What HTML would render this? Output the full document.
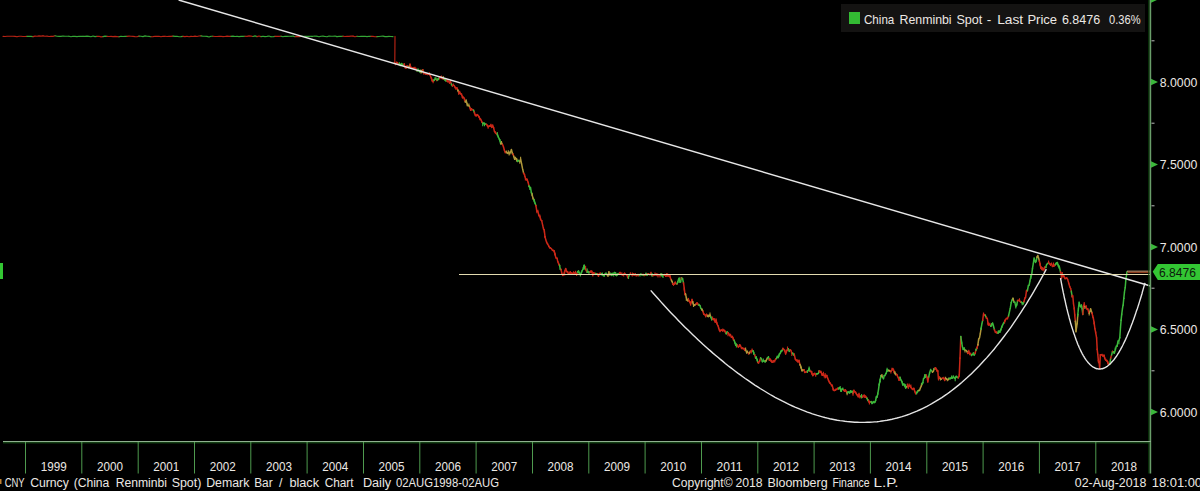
<!DOCTYPE html>
<html><head><meta charset="utf-8"><style>
html,body{margin:0;padding:0;background:#000;width:1200px;height:491px;overflow:hidden;}
svg{position:absolute;left:0;top:0;display:block}
text{font-family:"Liberation Sans",sans-serif;}
</style></head><body>
<svg width="1200" height="491" viewBox="0 0 1200 491">
<rect x="0" y="0" width="1200" height="491" fill="#000"/>
<g fill="none" stroke-width="1.15" stroke-linejoin="round" stroke-linecap="round" opacity="0.9"><path d="M3.0,36.4 L5.0,36.5 L7.0,36.3 L9.0,36.2 L11.0,36.3 L13.0,36.2 L15.0,36.4 L17.0,36.7" stroke="#cc2818"/><path d="M17.0,36.7 L19.0,36.3 L21.0,36.2 L23.0,36.5 L25.0,36.5 L27.0,36.4" stroke="#cc2818"/><path d="M27.0,36.4 L29.0,36.2 L31.0,36.4 L33.0,36.6" stroke="#3cb83c"/><path d="M33.0,36.6 L35.0,36.1 L37.0,36.3 L39.0,35.9 L41.0,36.1 L43.0,35.9" stroke="#cc2818"/><path d="M43.0,35.9 L45.0,36.3 L47.0,36.1 L49.0,36.5 L51.0,36.4" stroke="#cc2818"/><path d="M51.0,36.4 L53.0,36.4 L55.0,35.8" stroke="#cc2818"/><path d="M55.0,35.8 L57.0,36.3 L59.0,36.4 L61.0,36.4 L63.0,36.0 L65.0,36.3 L67.0,36.2 L69.0,36.2" stroke="#3cb83c"/><path d="M69.0,36.2 L71.0,36.7 L73.0,36.2 L75.0,36.4 L77.0,36.6 L79.0,36.3 L81.0,36.4 L83.0,36.4" stroke="#3cb83c"/><path d="M83.0,36.4 L85.0,36.4 L87.0,36.1 L89.0,36.4 L91.0,36.7 L93.0,36.0 L95.0,36.6 L97.0,36.4" stroke="#3cb83c"/><path d="M97.0,36.4 L99.0,36.2 L101.0,36.9 L103.0,36.6" stroke="#cc2818"/><path d="M103.0,36.6 L105.0,36.1 L107.0,36.4" stroke="#3cb83c"/><path d="M107.0,36.4 L109.0,36.5 L111.0,36.4 L113.0,36.6 L115.0,36.4 L117.0,36.6 L119.0,36.8" stroke="#cc2818"/><path d="M119.0,36.8 L121.0,36.2 L123.0,36.5 L125.0,36.3 L127.0,36.4" stroke="#3cb83c"/><path d="M127.0,36.4 L129.0,36.1 L131.0,36.3 L133.0,36.4 L135.0,36.6 L137.0,36.7 L139.0,36.1" stroke="#cc2818"/><path d="M139.0,36.1 L141.0,36.2 L143.0,36.6 L145.0,35.9 L147.0,36.3 L149.0,36.4 L151.0,36.7" stroke="#3cb83c"/><path d="M151.0,36.7 L153.0,36.6 L155.0,36.3 L157.0,36.3 L159.0,36.3 L161.0,36.8 L163.0,36.3 L165.0,36.3" stroke="#cc2818"/><path d="M165.0,36.3 L167.0,36.5 L169.0,36.4 L171.0,36.4 L173.0,36.1" stroke="#cc2818"/><path d="M173.0,36.1 L175.0,36.4 L177.0,36.3 L179.0,36.7 L181.0,36.6 L183.0,36.4" stroke="#3cb83c"/><path d="M183.0,36.4 L185.0,36.6 L187.0,36.3 L189.0,36.7 L191.0,36.4" stroke="#cc2818"/><path d="M191.0,36.4 L193.0,36.5 L195.0,36.1 L197.0,36.5 L199.0,36.0 L201.0,35.9" stroke="#cc2818"/><path d="M201.0,35.9 L203.0,36.3 L205.0,36.2 L207.0,36.4 L209.0,37.0 L211.0,36.2 L213.0,36.2" stroke="#3cb83c"/><path d="M213.0,36.2 L215.0,36.5 L217.0,36.5 L219.0,36.4 L221.0,36.3 L223.0,36.6 L225.0,36.5" stroke="#cc2818"/><path d="M225.0,36.5 L227.0,36.1 L229.0,36.4 L231.0,36.4" stroke="#cc2818"/><path d="M231.0,36.4 L233.0,36.1 L235.0,36.5 L237.0,36.2 L239.0,36.6 L241.0,36.4 L243.0,36.4 L245.0,36.3" stroke="#3cb83c"/><path d="M245.0,36.3 L247.0,36.4 L249.0,35.9 L251.0,36.1 L253.0,36.5" stroke="#cc2818"/><path d="M253.0,36.5 L255.0,35.9 L257.0,36.6" stroke="#3cb83c"/><path d="M257.0,36.6 L259.0,36.0 L261.0,36.6" stroke="#cc2818"/><path d="M261.0,36.6 L263.0,36.2 L265.0,36.6 L267.0,36.4 L269.0,36.0 L271.0,36.7" stroke="#3cb83c"/><path d="M271.0,36.7 L273.0,36.8 L275.0,36.4" stroke="#3cb83c"/><path d="M275.0,36.4 L277.0,36.3 L279.0,36.4 L281.0,36.2" stroke="#cc2818"/><path d="M281.0,36.2 L283.0,36.7 L285.0,36.3 L287.0,36.4 L289.0,36.2 L291.0,36.2" stroke="#3cb83c"/><path d="M291.0,36.2 L293.0,36.1 L295.0,36.7" stroke="#3cb83c"/><path d="M295.0,36.7 L297.0,36.4 L299.0,36.6 L301.0,36.4" stroke="#cc2818"/><path d="M301.0,36.4 L303.0,36.2 L305.0,36.3 L307.0,36.3 L309.0,36.4 L311.0,36.3" stroke="#3cb83c"/><path d="M311.0,36.3 L313.0,36.3 L315.0,36.1 L317.0,36.2" stroke="#3cb83c"/><path d="M317.0,36.2 L319.0,36.8 L321.0,36.2 L323.0,36.1 L325.0,36.5" stroke="#3cb83c"/><path d="M325.0,36.5 L327.0,36.8 L329.0,36.0 L331.0,36.3 L333.0,36.2 L335.0,36.0 L337.0,36.6" stroke="#3cb83c"/><path d="M337.0,36.6 L339.0,36.4 L341.0,36.4 L343.0,36.2" stroke="#3cb83c"/><path d="M343.0,36.2 L345.0,36.5 L347.0,36.3 L349.0,36.4 L351.0,36.1 L353.0,36.1" stroke="#cc2818"/><path d="M353.0,36.1 L355.0,36.7 L357.0,36.3" stroke="#cc2818"/><path d="M357.0,36.3 L359.0,36.5 L361.0,36.4 L363.0,36.3 L365.0,36.3 L367.0,36.6 L369.0,36.3 L371.0,36.4" stroke="#3cb83c"/><path d="M371.0,36.4 L373.0,36.4 L375.0,36.7 L377.0,36.6" stroke="#cc2818"/><path d="M377.0,36.6 L379.0,36.5 L381.0,36.3 L383.0,36.1 L385.0,36.6 L387.0,36.6 L389.0,36.4 L391.0,36.5" stroke="#3cb83c"/><path d="M391.0,36.5 L393.0,36.6" stroke="#3cb83c"/><path d="M395.0,36.4 L394.8,62.8" stroke="#cc2818"/></g><g fill="none" stroke-width="1.5" stroke-linejoin="round" stroke-linecap="round"><path d="M394.5,62.8 L395.5,63.6 L396.4,63.6 L397.4,62.6 L398.4,64.4" stroke="#cc2818"/><path d="M398.4,64.4 L399.3,63.5" stroke="#cc2818"/><path d="M399.3,63.5 L400.3,65.5" stroke="#3cb83c"/><path d="M400.3,65.5 L401.3,63.5 L402.2,64.9 L403.2,65.3 L404.2,64.2" stroke="#3cb83c"/><path d="M404.2,64.2 L405.2,67.5 L406.1,67.6 L407.1,65.9 L408.1,67.4" stroke="#cc2818"/><path d="M408.1,67.4 L409.0,67.3 L410.0,64.6" stroke="#b0983a"/><path d="M410.0,64.6 L411.0,67.8 L412.0,67.8" stroke="#cc2818"/><path d="M412.0,67.8 L413.0,68.3" stroke="#cc2818"/><path d="M413.0,68.3 L414.0,67.5 L415.0,68.6 L416.0,69.1 L417.0,70.8" stroke="#cc2818"/><path d="M417.0,70.8 L418.0,70.3 L419.0,70.3 L420.0,72.1 L420.9,70.4" stroke="#3cb83c"/><path d="M420.9,70.4 L421.9,71.0 L422.8,69.9" stroke="#b0983a"/><path d="M422.8,69.9 L423.8,73.6 L424.7,73.4 L425.6,73.7 L426.6,73.9" stroke="#cc2818"/><path d="M426.6,73.9 L427.5,73.7 L428.5,74.1 L429.4,74.0" stroke="#cc2818"/><path d="M429.4,74.0 L430.3,75.7 L431.2,77.6 L432.2,80.6" stroke="#cc2818"/><path d="M432.2,80.6 L433.1,81.3 L434.0,80.2" stroke="#cc2818"/><path d="M434.0,80.2 L435.0,79.2 L435.9,78.7 L436.8,80.5" stroke="#3cb83c"/><path d="M436.8,80.5 L437.7,79.2" stroke="#cc2818"/><path d="M437.7,79.2 L438.6,78.6 L439.6,78.1" stroke="#3cb83c"/><path d="M439.6,78.1 L440.5,77.1 L441.4,78.0 L442.3,78.8 L443.2,78.2" stroke="#cc2818"/><path d="M443.2,78.2 L444.1,79.2 L445.1,79.9" stroke="#b0983a"/><path d="M445.1,79.9 L446.0,81.0 L446.9,80.0" stroke="#3cb83c"/><path d="M446.9,80.0 L447.8,81.6 L448.7,81.2 L449.6,83.2 L450.5,81.7" stroke="#cc2818"/><path d="M450.5,81.7 L451.4,84.0" stroke="#cc2818"/><path d="M451.4,84.0 L452.4,85.9" stroke="#3cb83c"/><path d="M452.4,85.9 L453.3,85.0 L454.2,85.6 L455.1,87.3 L456.0,88.0" stroke="#cc2818"/><path d="M456.0,88.0 L457.0,88.0" stroke="#cc2818"/><path d="M457.0,88.0 L457.9,90.3" stroke="#cc2818"/><path d="M457.9,90.3 L458.8,92.8" stroke="#b0983a"/><path d="M458.8,92.8 L459.7,92.1 L460.6,93.8 L461.6,94.6 L462.5,97.5" stroke="#cc2818"/><path d="M462.5,97.5 L463.4,97.1 L464.3,98.3 L465.3,101.8" stroke="#cc2818"/><path d="M465.3,101.8 L466.2,100.7 L467.1,103.8 L468.0,105.6" stroke="#b0983a"/><path d="M468.0,105.6 L468.9,105.7 L469.8,107.4" stroke="#b0983a"/><path d="M469.8,107.4 L470.7,110.2" stroke="#cc2818"/><path d="M470.7,110.2 L471.6,109.1 L472.5,109.8 L473.5,110.1" stroke="#cc2818"/><path d="M473.5,110.1 L474.4,112.6" stroke="#3cb83c"/><path d="M474.4,112.6 L475.3,115.2 L476.2,115.6" stroke="#cc2818"/><path d="M476.2,115.6 L477.1,114.6 L478.1,115.6 L479.0,116.9" stroke="#cc2818"/><path d="M479.0,116.9 L479.9,118.6" stroke="#cc2818"/><path d="M479.9,118.6 L480.8,119.6 L481.8,121.6 L482.7,123.2" stroke="#cc2818"/><path d="M482.7,123.2 L483.6,123.0 L484.5,123.6 L485.4,124.2 L486.3,124.3" stroke="#3cb83c"/><path d="M486.3,124.3 L487.2,125.2 L488.1,127.0 L489.0,126.2" stroke="#cc2818"/><path d="M489.0,126.2 L489.9,126.2" stroke="#cc2818"/><path d="M489.9,126.2 L490.9,124.9 L491.8,127.4 L492.7,125.6 L493.6,127.7" stroke="#cc2818"/><path d="M493.6,127.7 L494.5,131.6 L495.5,133.0 L496.4,133.8 L497.3,134.0" stroke="#cc2818"/><path d="M497.3,134.0 L498.3,137.2 L499.2,138.7 L500.0,141.1 L500.7,143.7" stroke="#3cb83c"/><path d="M500.7,143.7 L501.5,142.7 L502.4,144.3" stroke="#b0983a"/><path d="M502.4,144.3 L503.4,146.5 L504.4,150.2 L505.3,152.7 L506.3,151.9" stroke="#cc2818"/><path d="M506.3,151.9 L507.3,153.4 L508.3,152.3 L509.1,153.7 L509.9,152.8" stroke="#b0983a"/><path d="M509.9,152.8 L510.6,151.9 L511.4,149.4 L512.2,152.7 L513.0,154.3" stroke="#b0983a"/><path d="M513.0,154.3 L513.7,156.3" stroke="#cc2818"/><path d="M513.7,156.3 L514.5,158.7 L515.5,158.2 L516.5,158.6 L517.5,161.3" stroke="#b0983a"/><path d="M517.5,161.3 L518.3,160.3 L519.0,160.8 L519.8,161.6" stroke="#3cb83c"/><path d="M519.8,161.6 L520.6,158.9 L521.6,163.9 L522.6,168.9 L523.6,173.2" stroke="#b0983a"/><path d="M523.6,173.2 L524.5,174.6" stroke="#cc2818"/><path d="M524.5,174.6 L525.4,178.1 L526.4,179.4 L527.3,180.1" stroke="#cc2818"/><path d="M527.3,180.1 L528.2,182.6 L529.0,186.2" stroke="#cc2818"/><path d="M529.0,186.2 L529.8,187.8 L530.5,187.4 L531.3,192.5 L532.2,194.9" stroke="#3cb83c"/><path d="M532.2,194.9 L533.1,198.7 L534.1,200.0" stroke="#b0983a"/><path d="M534.1,200.0 L535.0,203.1 L535.9,205.4" stroke="#3cb83c"/><path d="M535.9,205.4 L536.9,211.6 L537.9,211.4 L538.9,215.7 L539.8,216.2" stroke="#cc2818"/><path d="M539.8,216.2 L540.7,219.8 L541.7,220.7" stroke="#cc2818"/><path d="M541.7,220.7 L542.6,224.8 L543.5,228.9 L544.3,230.5 L545.0,236.6" stroke="#cc2818"/><path d="M545.0,236.6 L545.8,239.7 L546.6,242.2 L547.6,244.2" stroke="#cc2818"/><path d="M547.6,244.2 L548.6,245.7 L549.6,247.7" stroke="#cc2818"/><path d="M549.6,247.7 L550.5,248.1 L551.4,248.7 L552.4,250.2 L553.3,250.4" stroke="#cc2818"/><path d="M553.3,250.4 L554.2,251.0" stroke="#cc2818"/><path d="M554.2,251.0 L555.1,254.7" stroke="#cc2818"/><path d="M555.1,254.7 L556.0,258.1 L557.0,258.2" stroke="#cc2818"/><path d="M557.0,258.2 L557.9,262.1 L558.8,264.0 L559.6,265.5" stroke="#cc2818"/><path d="M559.6,265.5 L560.3,269.3 L561.1,269.8" stroke="#3cb83c"/><path d="M561.1,269.8 L561.9,273.7 L562.8,275.5 L563.8,274.3 L564.7,271.3" stroke="#cc2818"/><path d="M564.7,271.3 L565.7,268.4 L566.6,271.2 L567.6,271.9" stroke="#cc2818"/><path d="M567.6,271.9 L568.5,274.1 L569.4,273.3 L570.2,272.1 L571.1,273.0" stroke="#cc2818"/><path d="M571.1,273.0 L571.9,273.0 L572.8,273.8 L573.7,272.4" stroke="#cc2818"/><path d="M573.7,272.4 L574.7,273.7 L575.6,272.5 L576.6,274.4" stroke="#cc2818"/><path d="M576.6,274.4 L577.5,272.2" stroke="#cc2818"/><path d="M577.5,272.2 L578.5,271.0" stroke="#3cb83c"/><path d="M578.5,271.0 L579.5,273.2 L580.4,274.8 L581.4,272.7" stroke="#3cb83c"/><path d="M581.4,272.7 L582.3,270.5" stroke="#3cb83c"/><path d="M582.3,270.5 L583.3,268.3 L584.2,265.3" stroke="#3cb83c"/><path d="M584.2,265.3 L584.9,268.4 L585.6,268.9" stroke="#3cb83c"/><path d="M585.6,268.9 L586.3,270.7 L587.2,272.3" stroke="#cc2818"/><path d="M587.2,272.3 L588.1,271.3 L589.0,272.9 L589.9,271.8" stroke="#3cb83c"/><path d="M589.9,271.8 L590.9,271.7 L591.8,271.2 L592.8,275.0 L593.7,272.9" stroke="#cc2818"/><path d="M593.7,272.9 L594.6,273.6 L595.6,273.5" stroke="#cc2818"/><path d="M595.6,273.5 L596.5,273.9 L597.5,274.0" stroke="#3cb83c"/><path d="M597.5,274.0 L598.5,276.1" stroke="#cc2818"/><path d="M598.5,276.1 L599.4,273.4 L600.3,273.1 L601.3,273.9" stroke="#cc2818"/><path d="M601.3,273.9 L602.2,273.6 L603.2,275.6 L604.1,275.7" stroke="#3cb83c"/><path d="M604.1,275.7 L605.1,273.9 L606.0,273.5 L607.0,274.5" stroke="#3cb83c"/><path d="M607.0,274.5 L608.0,276.2 L608.9,271.9 L609.9,275.1 L610.8,273.4" stroke="#b0983a"/><path d="M610.8,273.4 L611.8,275.4" stroke="#3cb83c"/><path d="M611.8,275.4 L612.7,273.2 L613.7,273.8 L614.6,272.5" stroke="#3cb83c"/><path d="M614.6,272.5 L615.6,272.9 L616.5,275.4" stroke="#3cb83c"/><path d="M616.5,275.4 L617.4,274.9 L618.3,273.8" stroke="#3cb83c"/><path d="M618.3,273.8 L619.2,273.4" stroke="#3cb83c"/><path d="M619.2,273.4 L620.0,272.4 L620.9,274.0 L621.8,274.5 L622.7,274.5" stroke="#cc2818"/><path d="M622.7,274.5 L623.7,274.5 L624.6,273.5" stroke="#cc2818"/><path d="M624.6,273.5 L625.6,274.6 L626.5,274.7 L627.5,276.1" stroke="#cc2818"/><path d="M627.5,276.1 L628.5,276.7" stroke="#cc2818"/><path d="M628.5,276.7 L629.4,274.7 L630.4,274.1" stroke="#3cb83c"/><path d="M630.4,274.1 L631.4,274.8 L632.3,274.3 L633.3,274.2" stroke="#cc2818"/><path d="M633.3,274.2 L634.2,274.9" stroke="#cc2818"/><path d="M634.2,274.9 L635.2,274.0 L636.2,275.7 L637.1,275.0" stroke="#cc2818"/><path d="M637.1,275.0 L638.1,275.4" stroke="#3cb83c"/><path d="M638.1,275.4 L639.0,275.0" stroke="#cc2818"/><path d="M639.0,275.0 L640.0,274.5 L641.0,274.3" stroke="#3cb83c"/><path d="M641.0,274.3 L642.0,275.0 L643.0,274.7" stroke="#3cb83c"/><path d="M643.0,274.7 L644.0,275.4" stroke="#cc2818"/><path d="M644.0,275.4 L645.0,275.2" stroke="#3cb83c"/><path d="M645.0,275.2 L646.0,273.8" stroke="#cc2818"/><path d="M646.0,273.8 L647.0,275.3 L648.0,273.9" stroke="#3cb83c"/><path d="M648.0,273.9 L649.0,274.6 L650.0,274.9 L651.0,273.1" stroke="#cc2818"/><path d="M651.0,273.1 L652.0,275.3" stroke="#cc2818"/><path d="M652.0,275.3 L653.0,275.4" stroke="#3cb83c"/><path d="M653.0,275.4 L654.0,275.0 L655.0,274.8 L656.0,274.8" stroke="#cc2818"/><path d="M656.0,274.8 L657.0,274.2 L658.0,274.9" stroke="#cc2818"/><path d="M658.0,274.9 L659.0,274.6 L660.0,275.3 L661.0,274.0" stroke="#cc2818"/><path d="M661.0,274.0 L662.0,275.5 L663.0,275.5 L664.0,275.3" stroke="#3cb83c"/><path d="M664.0,275.3 L665.0,275.0 L665.9,276.1" stroke="#cc2818"/><path d="M665.9,276.1 L666.9,273.9 L667.9,276.1 L668.9,275.9 L669.9,276.0" stroke="#cc2818"/><path d="M669.9,276.0 L670.6,278.6 L671.4,280.0" stroke="#cc2818"/><path d="M671.4,280.0 L672.1,281.6 L672.8,283.7" stroke="#b0983a"/><path d="M672.8,283.7 L673.5,284.6" stroke="#cc2818"/><path d="M673.5,284.6 L674.4,284.1 L675.2,282.0 L676.1,283.7 L677.0,284.0" stroke="#cc2818"/><path d="M677.0,284.0 L677.8,282.0" stroke="#3cb83c"/><path d="M677.8,282.0 L678.5,279.4 L679.2,278.6 L679.9,282.1" stroke="#3cb83c"/><path d="M679.9,282.1 L680.6,282.0 L681.3,277.8" stroke="#3cb83c"/><path d="M681.3,277.8 L682.0,278.9" stroke="#cc2818"/><path d="M682.0,278.9 L682.8,279.9 L683.5,282.9" stroke="#3cb83c"/><path d="M683.5,282.9 L684.2,287.9 L684.9,294.1" stroke="#cc2818"/><path d="M684.9,294.1 L685.6,294.6" stroke="#cc2818"/><path d="M685.6,294.6 L686.3,297.4 L687.0,299.8 L687.8,300.6 L688.5,299.8" stroke="#b0983a"/><path d="M688.5,299.8 L689.2,301.3" stroke="#cc2818"/><path d="M689.2,301.3 L689.9,302.0" stroke="#cc2818"/><path d="M689.9,302.0 L690.6,304.2 L691.3,302.5 L692.0,299.6 L692.7,301.7" stroke="#cc2818"/><path d="M692.7,301.7 L693.5,304.9 L694.2,305.5 L695.1,304.8 L696.1,304.2" stroke="#b0983a"/><path d="M696.1,304.2 L697.0,302.7 L698.0,304.3 L698.9,304.8" stroke="#cc2818"/><path d="M698.9,304.8 L699.9,305.3 L700.9,308.4 L701.9,309.4" stroke="#3cb83c"/><path d="M701.9,309.4 L702.9,311.2" stroke="#b0983a"/><path d="M702.9,311.2 L703.8,314.3" stroke="#cc2818"/><path d="M703.8,314.3 L704.8,314.7 L705.7,316.0 L706.6,314.3" stroke="#cc2818"/><path d="M706.6,314.3 L707.4,315.9" stroke="#cc2818"/><path d="M707.4,315.9 L708.3,315.9 L709.1,316.0" stroke="#b0983a"/><path d="M709.1,316.0 L710.0,314.8 L710.9,317.3" stroke="#b0983a"/><path d="M710.9,317.3 L711.7,319.2 L712.6,319.2" stroke="#3cb83c"/><path d="M712.6,319.2 L713.4,318.8 L714.3,320.0" stroke="#cc2818"/><path d="M714.3,320.0 L715.2,322.0 L716.0,319.7 L716.9,323.6 L717.8,325.5" stroke="#cc2818"/><path d="M717.8,325.5 L718.5,327.3 L719.3,330.0 L720.0,331.1 L720.9,330.3" stroke="#cc2818"/><path d="M720.9,330.3 L721.9,330.3 L722.8,330.8" stroke="#cc2818"/><path d="M722.8,330.8 L723.7,329.9 L724.5,330.8 L725.4,332.2" stroke="#cc2818"/><path d="M725.4,332.2 L726.2,333.6" stroke="#cc2818"/><path d="M726.2,333.6 L727.1,331.9 L728.0,332.8" stroke="#3cb83c"/><path d="M728.0,332.8 L728.8,333.7 L729.7,335.6 L730.5,334.9" stroke="#cc2818"/><path d="M730.5,334.9 L731.4,337.2 L732.3,336.3 L733.2,338.7 L734.1,340.3" stroke="#cc2818"/><path d="M734.1,340.3 L735.0,342.9 L735.7,345.3 L736.4,344.9 L737.4,345.6" stroke="#3cb83c"/><path d="M737.4,345.6 L738.4,347.0" stroke="#cc2818"/><path d="M738.4,347.0 L739.4,346.2 L740.4,345.4 L741.4,348.1 L742.2,348.2" stroke="#cc2818"/><path d="M742.2,348.2 L743.1,348.7 L743.9,348.3 L744.8,350.4 L745.6,349.7" stroke="#cc2818"/><path d="M745.6,349.7 L746.6,352.4 L747.5,351.9 L748.5,353.3" stroke="#b0983a"/><path d="M748.5,353.3 L749.4,353.3" stroke="#cc2818"/><path d="M749.4,353.3 L750.3,351.3" stroke="#b0983a"/><path d="M750.3,351.3 L751.2,351.7 L752.1,350.2 L753.0,350.8" stroke="#cc2818"/><path d="M753.0,350.8 L753.9,353.6 L754.7,354.9" stroke="#3cb83c"/><path d="M754.7,354.9 L755.6,358.0" stroke="#cc2818"/><path d="M755.6,358.0 L756.3,357.9 L757.1,359.5 L757.8,362.5" stroke="#3cb83c"/><path d="M757.8,362.5 L758.7,362.4 L759.7,361.0 L760.6,357.9" stroke="#cc2818"/><path d="M760.6,357.9 L761.5,359.1 L762.4,361.5" stroke="#3cb83c"/><path d="M762.4,361.5 L763.3,360.9 L764.2,361.1 L765.1,361.5" stroke="#3cb83c"/><path d="M765.1,361.5 L765.9,361.1" stroke="#3cb83c"/><path d="M765.9,361.1 L766.8,359.1 L767.6,357.6" stroke="#b0983a"/><path d="M767.6,357.6 L768.5,357.1 L769.4,360.1" stroke="#3cb83c"/><path d="M769.4,360.1 L770.2,359.5" stroke="#cc2818"/><path d="M770.2,359.5 L771.1,361.1 L772.0,362.3 L772.9,362.2" stroke="#cc2818"/><path d="M772.9,362.2 L773.8,360.7 L774.7,360.9 L775.6,359.0 L776.5,358.4" stroke="#cc2818"/><path d="M776.5,358.4 L777.3,356.6 L778.2,357.6 L779.0,355.3 L779.9,353.5" stroke="#3cb83c"/><path d="M779.9,353.5 L780.6,352.4 L781.3,351.1 L782.0,350.6 L782.9,348.7" stroke="#3cb83c"/><path d="M782.9,348.7 L783.8,349.6 L784.7,350.6" stroke="#cc2818"/><path d="M784.7,350.6 L785.6,353.9 L786.5,351.4 L787.5,349.4 L788.4,349.2" stroke="#cc2818"/><path d="M788.4,349.2 L789.3,351.4 L790.1,350.0" stroke="#3cb83c"/><path d="M790.1,350.0 L791.0,350.7 L791.8,353.2 L792.7,353.3" stroke="#cc2818"/><path d="M792.7,353.3 L793.6,354.9 L794.4,355.1" stroke="#3cb83c"/><path d="M794.4,355.1 L795.3,359.0 L796.1,360.2 L797.0,360.5" stroke="#cc2818"/><path d="M797.0,360.5 L798.0,362.1 L799.0,360.8" stroke="#cc2818"/><path d="M799.0,360.8 L800.0,364.9" stroke="#cc2818"/><path d="M800.0,364.9 L800.7,366.0 L801.4,368.5 L802.1,370.7" stroke="#b0983a"/><path d="M802.1,370.7 L803.0,370.4 L803.9,369.7" stroke="#b0983a"/><path d="M803.9,369.7 L804.8,372.5 L805.7,372.1 L806.6,371.9 L807.4,371.1" stroke="#cc2818"/><path d="M807.4,371.1 L808.3,370.8 L809.1,368.3 L810.0,371.2" stroke="#3cb83c"/><path d="M810.0,371.2 L810.9,371.4 L811.9,373.4 L812.8,375.5" stroke="#cc2818"/><path d="M812.8,375.5 L813.8,374.3" stroke="#cc2818"/><path d="M813.8,374.3 L814.7,373.2 L815.7,374.8 L816.6,373.8" stroke="#cc2818"/><path d="M816.6,373.8 L817.4,373.8 L818.3,373.6 L819.1,370.8" stroke="#3cb83c"/><path d="M819.1,370.8 L820.0,372.4 L820.8,371.3 L821.7,373.8" stroke="#cc2818"/><path d="M821.7,373.8 L822.5,374.2 L823.4,374.7 L824.2,375.6" stroke="#cc2818"/><path d="M824.2,375.6 L825.1,375.7" stroke="#cc2818"/><path d="M825.1,375.7 L825.9,376.2 L826.8,375.7" stroke="#cc2818"/><path d="M826.8,375.7 L827.6,377.9 L828.5,380.3" stroke="#cc2818"/><path d="M828.5,380.3 L829.5,382.4" stroke="#cc2818"/><path d="M829.5,382.4 L830.4,383.6 L831.4,384.9 L832.3,385.7 L833.3,389.9" stroke="#cc2818"/><path d="M833.3,389.9 L834.2,390.5 L835.1,390.1" stroke="#cc2818"/><path d="M835.1,390.1 L835.9,389.5 L836.8,389.4 L837.6,388.5 L838.5,388.4" stroke="#cc2818"/><path d="M838.5,388.4 L839.4,387.6 L840.2,388.4 L841.1,391.2" stroke="#3cb83c"/><path d="M841.1,391.2 L841.9,389.0 L842.8,389.0 L843.7,390.3" stroke="#3cb83c"/><path d="M843.7,390.3 L844.5,391.1 L845.4,389.8 L846.2,391.3" stroke="#cc2818"/><path d="M846.2,391.3 L847.1,393.0" stroke="#cc2818"/><path d="M847.1,393.0 L847.9,392.2" stroke="#b0983a"/><path d="M847.9,392.2 L848.8,391.9 L849.6,393.2 L850.5,390.9" stroke="#3cb83c"/><path d="M850.5,390.9 L851.3,391.5 L852.2,391.2 L853.0,393.5" stroke="#3cb83c"/><path d="M853.0,393.5 L853.9,390.3 L854.7,391.8" stroke="#cc2818"/><path d="M854.7,391.8 L855.6,392.3 L856.5,394.2 L857.3,394.8 L858.2,396.3" stroke="#cc2818"/><path d="M858.2,396.3 L859.0,394.0 L859.9,397.1 L860.8,396.2" stroke="#cc2818"/><path d="M860.8,396.2 L861.6,396.0 L862.5,397.3" stroke="#3cb83c"/><path d="M862.5,397.3 L863.3,396.0 L864.2,395.0 L865.1,397.3" stroke="#cc2818"/><path d="M865.1,397.3 L865.9,396.7 L866.8,398.1" stroke="#cc2818"/><path d="M866.8,398.1 L867.6,399.7 L868.5,400.2" stroke="#3cb83c"/><path d="M868.5,400.2 L869.4,402.6 L870.2,401.9 L871.1,401.6" stroke="#cc2818"/><path d="M871.1,401.6 L872.0,403.4 L872.9,402.6" stroke="#3cb83c"/><path d="M872.9,402.6 L873.8,401.5 L874.7,402.5" stroke="#3cb83c"/><path d="M874.7,402.5 L875.6,400.7" stroke="#3cb83c"/><path d="M875.6,400.7 L876.3,397.0 L877.0,397.3 L877.7,394.1" stroke="#3cb83c"/><path d="M877.7,394.1 L878.5,389.6 L879.2,384.3" stroke="#3cb83c"/><path d="M879.2,384.3 L879.9,381.5" stroke="#3cb83c"/><path d="M879.9,381.5 L880.6,377.6 L881.3,375.4" stroke="#3cb83c"/><path d="M881.3,375.4 L882.0,376.1 L882.8,377.5" stroke="#b0983a"/><path d="M882.8,377.5 L883.5,378.9 L884.2,375.6 L885.0,375.5 L885.7,373.9" stroke="#3cb83c"/><path d="M885.7,373.9 L886.4,372.7 L887.1,369.5 L887.8,370.8 L888.5,370.5" stroke="#3cb83c"/><path d="M888.5,370.5 L889.3,370.4 L890.0,371.1 L890.9,371.3" stroke="#b0983a"/><path d="M890.9,371.3 L891.9,370.3 L892.8,368.5 L893.8,371.0 L894.7,371.9" stroke="#cc2818"/><path d="M894.7,371.9 L895.7,374.8 L896.6,374.3" stroke="#b0983a"/><path d="M896.6,374.3 L897.4,375.9 L898.3,377.8" stroke="#cc2818"/><path d="M898.3,377.8 L899.1,380.2 L900.0,377.5" stroke="#cc2818"/><path d="M900.0,377.5 L900.9,379.9 L901.9,381.5 L902.8,385.0 L903.8,384.3" stroke="#3cb83c"/><path d="M903.8,384.3 L904.7,386.1 L905.7,387.8 L906.6,386.7" stroke="#3cb83c"/><path d="M906.6,386.7 L907.4,386.6" stroke="#b0983a"/><path d="M907.4,386.6 L908.3,386.9 L909.1,385.1 L910.0,385.7 L910.9,387.4" stroke="#cc2818"/><path d="M910.9,387.4 L911.9,388.6 L912.8,389.0 L913.8,388.6" stroke="#cc2818"/><path d="M913.8,388.6 L914.7,391.1 L915.7,393.6" stroke="#cc2818"/><path d="M915.7,393.6 L916.6,392.9" stroke="#cc2818"/><path d="M916.6,392.9 L917.6,391.7 L918.5,390.4" stroke="#3cb83c"/><path d="M918.5,390.4 L919.5,390.5 L920.4,387.9 L921.4,385.9 L922.1,383.4" stroke="#b0983a"/><path d="M922.1,383.4 L922.8,382.8" stroke="#3cb83c"/><path d="M922.8,382.8 L923.5,378.7 L924.2,378.2 L924.9,375.2" stroke="#3cb83c"/><path d="M924.9,375.2 L925.6,375.1 L926.3,375.3" stroke="#3cb83c"/><path d="M926.3,375.3 L927.1,377.4 L927.8,381.7 L928.7,376.9" stroke="#cc2818"/><path d="M928.7,376.9 L929.7,372.5 L930.6,369.8 L931.6,370.7 L932.5,372.1" stroke="#3cb83c"/><path d="M932.5,372.1 L933.5,370.9 L934.2,368.5" stroke="#b0983a"/><path d="M934.2,368.5 L934.9,368.7" stroke="#3cb83c"/><path d="M934.9,368.7 L935.6,367.8 L936.3,368.9 L937.1,371.1 L937.8,371.0" stroke="#cc2818"/><path d="M937.8,371.0 L938.5,379.3 L939.4,376.9 L940.4,378.4" stroke="#cc2818"/><path d="M940.4,378.4 L941.3,379.2 L942.2,378.3" stroke="#b0983a"/><path d="M942.2,378.3 L943.0,378.2" stroke="#cc2818"/><path d="M943.0,378.2 L943.9,378.5 L944.7,380.6 L945.6,378.3" stroke="#cc2818"/><path d="M945.6,378.3 L946.5,378.9 L947.3,379.4 L948.2,379.5 L949.0,378.2" stroke="#b0983a"/><path d="M949.0,378.2 L949.9,378.8 L950.8,378.1 L951.6,378.3 L952.5,377.9" stroke="#3cb83c"/><path d="M952.5,377.9 L953.3,376.8 L954.2,377.8" stroke="#3cb83c"/><path d="M954.2,377.8 L955.2,378.5" stroke="#3cb83c"/><path d="M955.2,378.5 L956.2,376.6" stroke="#3cb83c"/><path d="M956.2,376.6 L957.2,377.1 L958.2,377.9" stroke="#3cb83c"/><path d="M958.2,377.9 L959.2,376.0 L960.0,357.6 L960.8,336.7" stroke="#cc2818"/><path d="M960.8,336.7 L961.6,342.2" stroke="#3cb83c"/><path d="M961.6,342.2 L962.4,346.6 L963.2,349.6 L964.1,348.3 L965.0,350.1" stroke="#3cb83c"/><path d="M965.0,350.1 L966.0,350.4 L966.9,351.3 L967.8,353.4" stroke="#b0983a"/><path d="M967.8,353.4 L968.8,351.1 L969.7,354.1 L970.6,353.7 L971.5,355.4" stroke="#cc2818"/><path d="M971.5,355.4 L972.4,354.5 L973.3,353.9 L974.2,355.2 L975.1,353.2" stroke="#3cb83c"/><path d="M975.1,353.2 L976.0,350.0" stroke="#cc2818"/><path d="M976.0,350.0 L977.0,348.0" stroke="#3cb83c"/><path d="M977.0,348.0 L977.9,344.6" stroke="#cc2818"/><path d="M977.9,344.6 L978.7,338.9 L979.5,337.9 L980.3,333.6 L981.1,328.5" stroke="#b0983a"/><path d="M981.1,328.5 L981.9,323.8 L982.7,320.2" stroke="#3cb83c"/><path d="M982.7,320.2 L983.5,314.1 L984.5,314.7 L985.5,316.0" stroke="#cc2818"/><path d="M985.5,316.0 L986.5,318.2" stroke="#3cb83c"/><path d="M986.5,318.2 L987.3,318.5 L988.1,323.9" stroke="#cc2818"/><path d="M988.1,323.9 L988.9,325.0 L989.8,324.2 L990.8,326.3" stroke="#cc2818"/><path d="M990.8,326.3 L991.7,324.6 L992.6,323.1 L993.5,326.2 L994.4,329.6" stroke="#3cb83c"/><path d="M994.4,329.6 L995.3,332.0 L996.2,332.5" stroke="#cc2818"/><path d="M996.2,332.5 L997.1,333.0 L998.0,333.0" stroke="#cc2818"/><path d="M998.0,333.0 L999.0,331.4 L999.9,332.1 L1000.8,329.5" stroke="#3cb83c"/><path d="M1000.8,329.5 L1001.8,326.9" stroke="#3cb83c"/><path d="M1001.8,326.9 L1002.7,324.8 L1003.6,323.2" stroke="#3cb83c"/><path d="M1003.6,323.2 L1004.6,321.7" stroke="#3cb83c"/><path d="M1004.6,321.7 L1005.6,319.6" stroke="#cc2818"/><path d="M1005.6,319.6 L1006.5,318.3 L1007.5,318.4 L1008.5,316.0" stroke="#cc2818"/><path d="M1008.5,316.0 L1009.4,312.1 L1010.3,307.9 L1011.2,302.7" stroke="#3cb83c"/><path d="M1011.2,302.7 L1012.1,299.8 L1013.0,298.5" stroke="#3cb83c"/><path d="M1013.0,298.5 L1014.0,302.0" stroke="#b0983a"/><path d="M1014.0,302.0 L1014.9,302.7 L1015.8,306.7 L1016.7,305.3 L1017.6,300.4" stroke="#3cb83c"/><path d="M1017.6,300.4 L1018.6,300.2 L1019.5,300.6 L1020.4,301.6 L1021.3,302.5" stroke="#cc2818"/><path d="M1021.3,302.5 L1022.2,302.6 L1023.1,304.1 L1023.9,301.8" stroke="#3cb83c"/><path d="M1023.9,301.8 L1024.8,298.6 L1025.6,297.2 L1026.5,290.9" stroke="#cc2818"/><path d="M1026.5,290.9 L1027.4,290.7" stroke="#cc2818"/><path d="M1027.4,290.7 L1028.3,286.0 L1029.2,285.0 L1030.0,280.5 L1030.9,276.6" stroke="#3cb83c"/><path d="M1030.9,276.6 L1031.7,274.6 L1032.5,268.4" stroke="#3cb83c"/><path d="M1032.5,268.4 L1033.3,263.6 L1034.1,258.0 L1034.8,260.8" stroke="#3cb83c"/><path d="M1034.8,260.8 L1035.5,262.5 L1036.3,260.6 L1037.0,257.0" stroke="#3cb83c"/><path d="M1037.0,257.0 L1037.8,255.7 L1038.6,258.0 L1039.4,261.1" stroke="#b0983a"/><path d="M1039.4,261.1 L1040.2,265.0" stroke="#cc2818"/><path d="M1040.2,265.0 L1040.8,267.8 L1041.5,268.7 L1042.3,268.9 L1043.1,269.0" stroke="#cc2818"/><path d="M1043.1,269.0 L1043.9,269.4 L1044.8,266.9 L1045.8,267.3" stroke="#cc2818"/><path d="M1045.8,267.3 L1046.7,264.3 L1047.6,263.7 L1048.6,262.6" stroke="#3cb83c"/><path d="M1048.6,262.6 L1049.6,264.0 L1050.5,264.3 L1051.5,263.7 L1052.5,266.4" stroke="#cc2818"/><path d="M1052.5,266.4 L1053.5,264.5 L1054.5,265.7 L1055.4,264.6" stroke="#cc2818"/><path d="M1055.4,264.6 L1056.4,262.8 L1057.4,262.8" stroke="#3cb83c"/><path d="M1057.4,262.8 L1058.1,265.0 L1058.8,266.0" stroke="#3cb83c"/><path d="M1058.8,266.0 L1059.5,267.3 L1060.5,272.1" stroke="#3cb83c"/><path d="M1060.5,272.1 L1061.0,273.1 L1061.6,277.3" stroke="#cc2818"/><path d="M1061.6,277.3 L1062.3,274.3 L1063.1,275.9 L1064.1,276.8" stroke="#cc2818"/><path d="M1064.1,276.8 L1065.1,278.8 L1065.9,278.3" stroke="#cc2818"/><path d="M1065.9,278.3 L1066.7,277.8 L1067.7,279.6 L1068.7,282.9 L1069.7,286.6" stroke="#cc2818"/><path d="M1069.7,286.6 L1070.7,288.7 L1071.4,291.8" stroke="#cc2818"/><path d="M1071.4,291.8 L1072.1,296.4" stroke="#3cb83c"/><path d="M1072.1,296.4 L1072.8,295.7 L1073.5,303.8 L1074.2,308.0" stroke="#cc2818"/><path d="M1074.2,308.0 L1074.8,315.8 L1075.4,321.4" stroke="#cc2818"/><path d="M1075.4,321.4 L1076.0,331.4 L1076.6,327.2 L1077.2,323.5 L1077.8,314.5" stroke="#b0983a"/><path d="M1077.8,314.5 L1078.4,308.9 L1079.1,302.3 L1079.9,305.7 L1080.7,306.8" stroke="#3cb83c"/><path d="M1080.7,306.8 L1081.4,305.0 L1082.1,308.5 L1082.8,314.5" stroke="#3cb83c"/><path d="M1082.8,314.5 L1083.5,306.5" stroke="#cc2818"/><path d="M1083.5,306.5 L1084.2,303.9 L1084.9,306.5" stroke="#cc2818"/><path d="M1084.9,306.5 L1085.7,306.7" stroke="#b0983a"/><path d="M1085.7,306.7 L1086.4,307.7 L1087.1,309.2 L1087.8,309.0" stroke="#cc2818"/><path d="M1087.8,309.0 L1088.5,311.4 L1089.2,313.3" stroke="#cc2818"/><path d="M1089.2,313.3 L1089.9,311.5 L1090.6,308.8 L1091.3,310.9 L1092.1,313.3" stroke="#b0983a"/><path d="M1092.1,313.3 L1092.8,316.6 L1093.5,319.0 L1094.2,323.4" stroke="#cc2818"/><path d="M1094.2,323.4 L1094.9,328.6 L1095.6,332.2" stroke="#cc2818"/><path d="M1095.6,332.2 L1096.6,337.9" stroke="#cc2818"/><path d="M1096.6,337.9 L1097.2,349.5" stroke="#cc2818"/><path d="M1097.2,349.5 L1097.8,354.6 L1098.4,360.9" stroke="#cc2818"/><path d="M1098.4,360.9 L1099.1,362.4 L1099.7,368.4 L1100.3,354.9 L1101.2,354.7" stroke="#cc2818"/><path d="M1101.2,354.7 L1102.1,354.9 L1103.0,356.0 L1104.0,355.5" stroke="#cc2818"/><path d="M1104.0,355.5 L1104.9,358.8 L1105.8,360.3 L1106.7,360.2 L1107.6,361.8" stroke="#cc2818"/><path d="M1107.6,361.8 L1108.2,363.9 L1108.8,363.6 L1109.8,364.2" stroke="#cc2818"/><path d="M1109.8,364.2 L1110.7,357.9" stroke="#3cb83c"/><path d="M1110.7,357.9 L1111.6,354.9" stroke="#cc2818"/><path d="M1111.6,354.9 L1112.5,351.5" stroke="#3cb83c"/><path d="M1112.5,351.5 L1113.4,352.2" stroke="#cc2818"/><path d="M1113.4,352.2 L1114.3,353.2 L1115.2,350.2 L1116.2,346.7 L1117.1,346.2" stroke="#3cb83c"/><path d="M1117.1,346.2 L1118.0,341.1 L1118.9,340.7 L1119.8,337.6" stroke="#3cb83c"/><path d="M1119.8,337.6 L1120.5,327.4 L1121.1,320.2" stroke="#3cb83c"/><path d="M1121.1,320.2 L1121.8,313.6 L1122.5,308.4 L1123.2,304.4 L1123.8,298.3" stroke="#3cb83c"/><path d="M1123.8,298.3 L1124.5,291.7 L1125.2,287.7" stroke="#3cb83c"/><path d="M1125.2,287.7 L1125.9,279.0" stroke="#3cb83c"/><path d="M1125.9,279.0 L1126.5,275.4 L1127.0,271.7" stroke="#3cb83c"/></g><g fill="none" stroke-width="1.1"><path d="M394.5,62.4V63.6M395.5,63.0V65.3M396.4,61.4V63.7M397.4,62.1V63.1" stroke="#cc2818"/><path d="M398.4,63.4V64.6" stroke="#cc2818"/><path d="M399.3,62.3V64.3" stroke="#3cb83c"/><path d="M400.3,65.4V65.7M401.3,63.0V63.7M402.2,63.2V65.5M403.2,65.0V65.4" stroke="#3cb83c"/><path d="M404.2,63.1V65.6M405.2,66.3V68.4M406.1,65.9V69.1M407.1,65.1V67.2" stroke="#cc2818"/><path d="M408.1,66.7V68.0M409.0,65.6V67.3" stroke="#b0983a"/><path d="M410.0,63.2V65.9M411.0,66.8V68.5" stroke="#cc2818"/><path d="M412.0,67.7V68.5" stroke="#cc2818"/><path d="M413.0,67.4V68.7M414.0,67.4V68.4M415.0,66.7V69.3M416.0,67.8V69.1" stroke="#cc2818"/><path d="M417.0,70.0V71.3M418.0,68.2V71.8M419.0,69.7V70.4M420.0,70.7V72.4" stroke="#3cb83c"/><path d="M420.9,70.2V73.4M421.9,70.8V73.3" stroke="#b0983a"/><path d="M422.8,69.2V70.0M423.8,72.3V74.6M424.7,73.0V73.8M425.6,73.6V74.7" stroke="#cc2818"/><path d="M426.6,73.0V74.5M427.5,73.1V75.2M428.5,73.3V74.9" stroke="#cc2818"/><path d="M429.4,72.3V74.1M430.3,74.9V76.1M431.2,77.3V78.8" stroke="#cc2818"/><path d="M432.2,79.2V81.8M433.1,81.0V83.2" stroke="#cc2818"/><path d="M434.0,79.0V81.3M435.0,77.3V79.5M435.9,77.3V79.4" stroke="#3cb83c"/><path d="M436.8,80.3V80.5" stroke="#cc2818"/><path d="M437.7,78.8V80.9M438.6,77.6V80.1" stroke="#3cb83c"/><path d="M439.6,76.8V79.5M440.5,76.7V77.8M441.4,75.4V78.9M442.3,78.6V79.3" stroke="#cc2818"/><path d="M443.2,75.9V78.4M444.1,78.3V79.3" stroke="#b0983a"/><path d="M445.1,78.8V80.7M446.0,80.5V81.6" stroke="#3cb83c"/><path d="M446.9,79.5V81.8M447.8,80.6V82.5M448.7,80.6V81.7M449.6,81.6V83.2" stroke="#cc2818"/><path d="M450.5,79.7V82.8" stroke="#cc2818"/><path d="M451.4,83.7V85.5" stroke="#3cb83c"/><path d="M452.4,85.5V86.5M453.3,83.4V85.7M454.2,85.6V86.0M455.1,86.5V88.6" stroke="#cc2818"/><path d="M456.0,88.0V89.9" stroke="#cc2818"/><path d="M457.0,87.8V88.0" stroke="#cc2818"/><path d="M457.9,89.6V91.4" stroke="#b0983a"/><path d="M458.8,91.3V94.9M459.7,90.7V93.9M460.6,93.1V94.2M461.6,93.3V95.7" stroke="#cc2818"/><path d="M462.5,95.6V98.5M463.4,96.7V98.2M464.3,97.9V100.5" stroke="#cc2818"/><path d="M465.3,101.2V102.4M466.2,99.3V103.0M467.1,103.0V106.2" stroke="#b0983a"/><path d="M468.0,105.5V105.8M468.9,103.6V106.1" stroke="#b0983a"/><path d="M469.8,107.4V108.0" stroke="#cc2818"/><path d="M470.7,108.4V110.2M471.6,108.0V109.7M472.5,109.5V109.9" stroke="#cc2818"/><path d="M473.5,110.1V111.2" stroke="#3cb83c"/><path d="M474.4,111.3V114.2M475.3,113.9V116.2" stroke="#cc2818"/><path d="M476.2,115.5V116.4M477.1,114.3V115.1M478.1,114.8V115.9" stroke="#cc2818"/><path d="M479.0,115.8V117.5" stroke="#cc2818"/><path d="M479.9,118.3V120.3M480.8,118.8V119.8M481.8,121.1V122.9" stroke="#cc2818"/><path d="M482.7,122.4V126.3M483.6,122.9V124.6M484.5,122.4V126.3M485.4,123.6V124.3" stroke="#3cb83c"/><path d="M486.3,124.0V124.6M487.2,124.5V126.6M488.1,126.0V128.8" stroke="#cc2818"/><path d="M489.0,125.2V126.5" stroke="#cc2818"/><path d="M489.9,124.9V126.9M490.9,123.8V125.7M491.8,126.9V127.5M492.7,124.3V127.0" stroke="#cc2818"/><path d="M493.6,127.2V128.4M494.5,130.9V132.1M495.5,131.3V133.5M496.4,132.8V134.4" stroke="#cc2818"/><path d="M497.3,132.1V136.1M498.3,135.8V137.5M499.2,138.4V139.8M500.0,139.0V141.5" stroke="#3cb83c"/><path d="M500.7,143.0V144.3M501.5,141.1V144.3" stroke="#b0983a"/><path d="M502.4,144.0V144.6M503.4,145.7V147.4M504.4,149.0V150.8M505.3,152.7V152.9" stroke="#cc2818"/><path d="M506.3,150.4V152.2M507.3,152.4V153.6M508.3,150.3V153.0M509.1,153.4V155.5" stroke="#b0983a"/><path d="M509.9,151.2V154.6M510.6,151.1V152.7M511.4,149.4V150.1M512.2,152.6V154.2" stroke="#b0983a"/><path d="M513.0,153.6V154.7" stroke="#cc2818"/><path d="M513.7,155.4V157.3M514.5,157.5V159.9M515.5,156.7V159.7M516.5,158.0V161.4" stroke="#b0983a"/><path d="M517.5,160.2V162.3M518.3,160.1V161.5M519.0,160.5V161.0" stroke="#3cb83c"/><path d="M519.8,160.8V163.7M520.6,156.8V159.3M521.6,163.5V164.5M522.6,168.7V169.9" stroke="#b0983a"/><path d="M523.6,173.0V173.7" stroke="#cc2818"/><path d="M524.5,173.8V176.8M525.4,176.5V180.6M526.4,178.4V180.5" stroke="#cc2818"/><path d="M527.3,178.6V180.3M528.2,181.7V183.2" stroke="#cc2818"/><path d="M529.0,185.2V187.1M529.8,187.7V189.9M530.5,187.2V187.5M531.3,191.8V193.3" stroke="#3cb83c"/><path d="M532.2,192.8V196.2M533.1,197.5V199.6" stroke="#b0983a"/><path d="M534.1,198.7V202.3M535.0,202.8V203.9" stroke="#3cb83c"/><path d="M535.9,204.9V206.5M536.9,210.6V213.2M537.9,209.8V211.5M538.9,215.0V216.5" stroke="#cc2818"/><path d="M539.8,214.5V217.4M540.7,218.5V220.2" stroke="#cc2818"/><path d="M541.7,219.9V220.8M542.6,224.5V225.8M543.5,227.1V229.9M544.3,228.9V232.6" stroke="#cc2818"/><path d="M545.0,235.9V237.9M545.8,239.1V239.8M546.6,241.8V243.3" stroke="#cc2818"/><path d="M547.6,243.1V244.3M548.6,245.4V246.9" stroke="#cc2818"/><path d="M549.6,247.2V247.9M550.5,247.0V248.1M551.4,248.4V248.9M552.4,250.0V250.9" stroke="#cc2818"/><path d="M553.3,249.9V251.2" stroke="#cc2818"/><path d="M554.2,250.3V252.4" stroke="#cc2818"/><path d="M555.1,252.8V255.1M556.0,257.6V258.3" stroke="#cc2818"/><path d="M557.0,257.7V258.7M557.9,261.3V262.3M558.8,262.7V265.4" stroke="#cc2818"/><path d="M559.6,264.4V266.2M560.3,268.3V270.1" stroke="#3cb83c"/><path d="M561.1,268.5V270.0M561.9,272.8V274.1M562.8,274.7V275.7M563.8,274.1V274.4" stroke="#cc2818"/><path d="M564.7,270.7V275.4M565.7,268.3V270.5M566.6,271.0V272.5" stroke="#cc2818"/><path d="M567.6,271.6V272.3M568.5,273.9V274.2M569.4,272.7V274.0M570.2,271.1V273.4" stroke="#cc2818"/><path d="M571.1,273.0V274.0M571.9,272.7V273.1M572.8,273.6V274.3" stroke="#cc2818"/><path d="M573.7,271.5V272.6M574.7,273.0V274.6M575.6,270.7V272.8" stroke="#cc2818"/><path d="M576.6,274.1V276.0" stroke="#cc2818"/><path d="M577.5,271.0V272.8" stroke="#3cb83c"/><path d="M578.5,270.6V273.6M579.5,272.8V273.8M580.4,274.7V276.4" stroke="#3cb83c"/><path d="M581.4,271.2V273.1" stroke="#3cb83c"/><path d="M582.3,270.1V270.8M583.3,267.0V269.8" stroke="#3cb83c"/><path d="M584.2,264.9V266.9M584.9,267.5V269.7" stroke="#3cb83c"/><path d="M585.6,265.8V269.9M586.3,270.0V271.6" stroke="#cc2818"/><path d="M587.2,268.5V273.0M588.1,271.1V272.4M589.0,272.2V273.5" stroke="#3cb83c"/><path d="M589.9,271.6V272.6M590.9,270.1V272.9M591.8,270.7V272.7M592.8,273.2V276.4" stroke="#cc2818"/><path d="M593.7,272.1V274.3M594.6,273.4V273.9" stroke="#cc2818"/><path d="M595.6,273.4V273.7M596.5,273.3V274.3" stroke="#3cb83c"/><path d="M597.5,273.1V274.3" stroke="#cc2818"/><path d="M598.5,275.8V276.2M599.4,272.9V274.3M600.3,272.8V273.4" stroke="#cc2818"/><path d="M601.3,273.5V275.5M602.2,272.6V274.7M603.2,274.9V276.1" stroke="#3cb83c"/><path d="M604.1,273.9V276.8M605.1,273.4V274.8M606.0,272.2V274.3" stroke="#3cb83c"/><path d="M607.0,274.3V275.0M608.0,275.7V276.5M608.9,271.0V271.9M609.9,274.5V275.1" stroke="#b0983a"/><path d="M610.8,272.9V274.6" stroke="#3cb83c"/><path d="M611.8,275.2V275.8M612.7,272.9V274.0M613.7,273.2V276.6" stroke="#3cb83c"/><path d="M614.6,272.2V272.9M615.6,272.5V275.7" stroke="#3cb83c"/><path d="M616.5,275.2V276.2M617.4,273.4V275.2" stroke="#3cb83c"/><path d="M618.3,272.9V274.0" stroke="#3cb83c"/><path d="M619.2,273.2V274.0M620.0,272.4V273.9M620.9,273.8V274.9M621.8,272.3V275.3" stroke="#cc2818"/><path d="M622.7,274.2V275.8M623.7,273.4V276.4" stroke="#cc2818"/><path d="M624.6,272.4V273.7M625.6,274.3V274.8M626.5,274.4V274.9" stroke="#cc2818"/><path d="M627.5,275.2V278.4" stroke="#cc2818"/><path d="M628.5,275.9V278.9M629.4,274.6V274.7" stroke="#3cb83c"/><path d="M630.4,272.3V274.9M631.4,273.9V274.9M632.3,272.5V276.4" stroke="#cc2818"/><path d="M633.3,272.9V275.4" stroke="#cc2818"/><path d="M634.2,274.5V275.4M635.2,273.0V274.8M636.2,275.0V276.6" stroke="#cc2818"/><path d="M637.1,274.2V275.1" stroke="#3cb83c"/><path d="M638.1,273.8V276.5" stroke="#cc2818"/><path d="M639.0,274.3V275.1M640.0,274.1V276.6" stroke="#3cb83c"/><path d="M641.0,273.4V274.9M642.0,274.9V275.6" stroke="#3cb83c"/><path d="M643.0,273.6V274.7" stroke="#cc2818"/><path d="M644.0,275.4V275.4" stroke="#3cb83c"/><path d="M645.0,274.4V275.7" stroke="#cc2818"/><path d="M646.0,272.6V274.3M647.0,275.1V275.3" stroke="#3cb83c"/><path d="M648.0,273.3V275.0M649.0,273.5V275.0M650.0,273.9V275.0" stroke="#cc2818"/><path d="M651.0,271.7V273.2" stroke="#cc2818"/><path d="M652.0,273.0V276.8" stroke="#3cb83c"/><path d="M653.0,275.2V276.6M654.0,274.8V276.0M655.0,272.5V275.3" stroke="#cc2818"/><path d="M656.0,273.1V275.4M657.0,273.8V276.3" stroke="#cc2818"/><path d="M658.0,273.8V277.4M659.0,274.6V275.0M660.0,274.8V277.6" stroke="#cc2818"/><path d="M661.0,273.6V275.9M662.0,273.4V276.8M663.0,274.9V278.1" stroke="#3cb83c"/><path d="M664.0,274.8V275.5M665.0,273.8V275.6" stroke="#cc2818"/><path d="M665.9,275.4V276.8M666.9,273.3V275.9M667.9,273.8V276.4M668.9,275.2V276.3" stroke="#cc2818"/><path d="M669.9,274.3V277.5M670.6,278.0V279.2" stroke="#cc2818"/><path d="M671.4,280.0V281.3M672.1,281.1V282.1" stroke="#b0983a"/><path d="M672.8,283.0V284.9" stroke="#cc2818"/><path d="M673.5,284.4V285.7M674.4,282.9V284.6M675.2,282.0V283.5M676.1,283.6V284.5" stroke="#cc2818"/><path d="M677.0,283.2V284.1" stroke="#3cb83c"/><path d="M677.8,281.1V283.0M678.5,278.6V280.1M679.2,277.3V278.9" stroke="#3cb83c"/><path d="M679.9,281.7V282.2M680.6,281.1V282.4" stroke="#3cb83c"/><path d="M681.3,277.6V279.5" stroke="#cc2818"/><path d="M682.0,277.2V279.2M682.8,278.1V279.9" stroke="#3cb83c"/><path d="M683.5,282.5V283.9M684.2,287.5V290.5" stroke="#cc2818"/><path d="M684.9,293.8V295.4" stroke="#cc2818"/><path d="M685.6,293.1V295.0M686.3,297.0V300.7M687.0,298.7V300.7M687.8,299.7V301.6" stroke="#b0983a"/><path d="M688.5,297.9V299.8" stroke="#cc2818"/><path d="M689.2,300.3V302.1" stroke="#cc2818"/><path d="M689.9,301.6V303.1M690.6,303.8V305.7M691.3,302.1V302.7M692.0,298.7V300.1" stroke="#cc2818"/><path d="M692.7,301.2V303.4M693.5,303.7V306.9M694.2,303.9V305.8M695.1,304.2V305.5" stroke="#b0983a"/><path d="M696.1,302.9V304.6M697.0,302.5V303.6M698.0,303.6V305.6" stroke="#cc2818"/><path d="M698.9,303.7V306.0M699.9,304.9V306.0M700.9,307.9V308.5" stroke="#3cb83c"/><path d="M701.9,308.5V310.8" stroke="#b0983a"/><path d="M702.9,311.0V311.3" stroke="#cc2818"/><path d="M703.8,313.1V314.6M704.8,314.6V315.1M705.7,315.6V317.6" stroke="#cc2818"/><path d="M706.6,314.2V314.8" stroke="#cc2818"/><path d="M707.4,315.6V317.1M708.3,314.6V317.6" stroke="#b0983a"/><path d="M709.1,315.7V316.5M710.0,312.5V315.5" stroke="#b0983a"/><path d="M710.9,316.4V318.2M711.7,318.2V320.8" stroke="#3cb83c"/><path d="M712.6,316.4V319.6M713.4,318.0V319.4" stroke="#cc2818"/><path d="M714.3,318.0V320.3M715.2,320.7V323.1M716.0,318.2V321.3M716.9,322.0V324.2" stroke="#cc2818"/><path d="M717.8,325.3V325.7M718.5,326.6V329.0M719.3,329.3V330.6M720.0,330.7V332.3" stroke="#cc2818"/><path d="M720.9,329.8V331.1M721.9,329.0V330.9" stroke="#cc2818"/><path d="M722.8,328.4V331.4M723.7,329.7V330.9M724.5,329.7V331.5" stroke="#cc2818"/><path d="M725.4,330.4V332.7" stroke="#cc2818"/><path d="M726.2,332.3V334.5M727.1,331.3V332.3" stroke="#3cb83c"/><path d="M728.0,331.9V336.2M728.8,332.9V334.5M729.7,334.6V336.3" stroke="#cc2818"/><path d="M730.5,333.8V335.5M731.4,336.0V337.9M732.3,336.1V337.4M733.2,337.2V340.2" stroke="#cc2818"/><path d="M734.1,339.8V340.4M735.0,341.8V344.0M735.7,344.9V346.0M736.4,343.3V347.4" stroke="#3cb83c"/><path d="M737.4,344.3V345.9" stroke="#cc2818"/><path d="M738.4,345.7V347.4M739.4,344.1V347.0M740.4,344.6V345.5M741.4,347.6V349.2" stroke="#cc2818"/><path d="M742.2,347.0V348.5M743.1,348.2V349.6M743.9,347.8V349.4M744.8,348.3V351.0" stroke="#cc2818"/><path d="M745.6,347.5V350.9M746.6,351.8V353.7M747.5,350.4V352.0" stroke="#b0983a"/><path d="M748.5,352.6V354.7" stroke="#cc2818"/><path d="M749.4,352.0V354.2" stroke="#b0983a"/><path d="M750.3,351.2V351.8M751.2,351.0V353.6M752.1,348.4V350.8" stroke="#cc2818"/><path d="M753.0,350.3V351.9M753.9,351.7V355.1" stroke="#3cb83c"/><path d="M754.7,354.3V355.3" stroke="#cc2818"/><path d="M755.6,356.8V358.6M756.3,356.1V358.2M757.1,358.8V360.9" stroke="#3cb83c"/><path d="M757.8,362.0V362.6M758.7,361.7V364.1M759.7,359.7V361.5" stroke="#cc2818"/><path d="M760.6,357.6V358.3M761.5,358.5V359.3" stroke="#3cb83c"/><path d="M762.4,361.2V362.6M763.3,358.5V361.5M764.2,360.1V361.8" stroke="#3cb83c"/><path d="M765.1,361.2V362.9" stroke="#3cb83c"/><path d="M765.9,359.9V361.2M766.8,359.0V359.8" stroke="#b0983a"/><path d="M767.6,357.0V357.8M768.5,355.9V357.1" stroke="#3cb83c"/><path d="M769.4,358.0V360.8" stroke="#cc2818"/><path d="M770.2,358.3V361.1M771.1,359.4V362.0M772.0,360.1V362.4" stroke="#cc2818"/><path d="M772.9,361.9V362.4M773.8,360.0V360.7M774.7,360.8V362.4M775.6,358.2V360.2" stroke="#cc2818"/><path d="M776.5,357.5V359.2M777.3,355.4V357.8M778.2,356.4V358.1M779.0,353.4V356.7" stroke="#3cb83c"/><path d="M779.9,353.2V353.8M780.6,350.7V353.2M781.3,349.9V351.6M782.0,349.8V351.6" stroke="#3cb83c"/><path d="M782.9,347.6V349.8M783.8,348.7V349.7" stroke="#cc2818"/><path d="M784.7,349.5V351.4M785.6,353.1V354.8M786.5,349.7V352.7M787.5,346.5V351.0" stroke="#cc2818"/><path d="M788.4,348.1V349.4M789.3,350.7V351.6" stroke="#3cb83c"/><path d="M790.1,349.2V350.2M791.0,349.7V350.8M791.8,352.4V356.1" stroke="#cc2818"/><path d="M792.7,352.4V354.2M793.6,353.8V355.4" stroke="#3cb83c"/><path d="M794.4,353.3V355.9M795.3,358.2V360.0M796.1,359.7V361.1" stroke="#cc2818"/><path d="M797.0,359.0V361.8M798.0,362.0V362.3" stroke="#cc2818"/><path d="M799.0,359.6V361.5" stroke="#cc2818"/><path d="M800.0,363.8V365.2M800.7,366.0V368.2M801.4,367.1V369.3" stroke="#b0983a"/><path d="M802.1,369.1V370.9M803.0,369.5V370.8" stroke="#b0983a"/><path d="M803.9,369.3V370.4M804.8,371.4V372.8M805.7,371.8V372.4M806.6,371.3V372.3" stroke="#cc2818"/><path d="M807.4,370.2V373.0M808.3,370.5V370.8M809.1,366.6V369.4" stroke="#3cb83c"/><path d="M810.0,371.1V371.8M810.9,370.2V372.1M811.9,371.0V374.8" stroke="#cc2818"/><path d="M812.8,373.4V376.2" stroke="#cc2818"/><path d="M813.8,373.3V375.3M814.7,372.9V373.5M815.7,374.1V376.8" stroke="#cc2818"/><path d="M816.6,373.4V374.7M817.4,373.1V374.5M818.3,373.5V374.1" stroke="#3cb83c"/><path d="M819.1,370.7V370.9M820.0,372.2V372.9M820.8,370.7V372.1" stroke="#cc2818"/><path d="M821.7,373.0V375.7M822.5,373.5V375.9M823.4,371.7V375.4" stroke="#cc2818"/><path d="M824.2,374.9V377.4" stroke="#cc2818"/><path d="M825.1,372.9V378.6M825.9,374.6V377.9" stroke="#cc2818"/><path d="M826.8,374.7V375.9M827.6,377.5V378.9" stroke="#cc2818"/><path d="M828.5,379.5V381.6" stroke="#cc2818"/><path d="M829.5,382.1V383.5M830.4,382.4V384.0M831.4,384.7V386.4M832.3,384.4V386.0" stroke="#cc2818"/><path d="M833.3,388.2V390.0M834.2,389.7V391.3" stroke="#cc2818"/><path d="M835.1,390.0V390.9M835.9,388.4V390.2M836.8,388.4V389.5M837.6,387.5V389.1" stroke="#cc2818"/><path d="M838.5,387.9V389.7M839.4,386.9V388.6M840.2,386.1V389.8" stroke="#3cb83c"/><path d="M841.1,390.9V391.4M841.9,388.6V389.0M842.8,387.4V390.0" stroke="#3cb83c"/><path d="M843.7,389.4V391.1M844.5,389.6V391.4M845.4,389.6V391.1" stroke="#cc2818"/><path d="M846.2,390.9V391.6" stroke="#cc2818"/><path d="M847.1,392.5V395.2" stroke="#b0983a"/><path d="M847.9,391.3V393.6M848.8,391.3V392.8M849.6,392.4V393.3" stroke="#3cb83c"/><path d="M850.5,390.8V392.7M851.3,391.4V393.1M852.2,390.8V391.6" stroke="#3cb83c"/><path d="M853.0,393.4V395.7M853.9,389.7V390.9" stroke="#cc2818"/><path d="M854.7,391.7V392.1M855.6,391.2V393.5M856.5,392.7V395.3M857.3,394.2V395.9" stroke="#cc2818"/><path d="M858.2,395.8V397.7M859.0,392.7V396.0M859.9,396.8V398.6" stroke="#cc2818"/><path d="M860.8,395.8V396.6M861.6,393.9V398.5" stroke="#3cb83c"/><path d="M862.5,395.6V397.6M863.3,396.0V396.3M864.2,394.7V395.7" stroke="#cc2818"/><path d="M865.1,395.0V397.6M865.9,395.8V398.1" stroke="#cc2818"/><path d="M866.8,397.5V398.3M867.6,399.4V401.3" stroke="#3cb83c"/><path d="M868.5,399.7V402.4M869.4,401.4V404.4M870.2,401.5V402.5" stroke="#cc2818"/><path d="M871.1,401.1V402.8M872.0,402.3V404.3" stroke="#3cb83c"/><path d="M872.9,401.3V403.2M873.8,401.4V402.3" stroke="#3cb83c"/><path d="M874.7,401.8V402.5" stroke="#3cb83c"/><path d="M875.6,399.6V400.7M876.3,396.0V398.5M877.0,395.5V398.1" stroke="#3cb83c"/><path d="M877.7,392.6V394.4M878.5,389.4V390.1" stroke="#3cb83c"/><path d="M879.2,383.8V385.8" stroke="#3cb83c"/><path d="M879.9,378.7V382.5M880.6,375.0V377.6" stroke="#3cb83c"/><path d="M881.3,375.4V376.2M882.0,374.0V377.4" stroke="#b0983a"/><path d="M882.8,377.4V377.7M883.5,378.3V379.1M884.2,374.9V376.1M885.0,375.4V376.2" stroke="#3cb83c"/><path d="M885.7,373.2V374.1M886.4,372.6V374.0M887.1,367.8V369.7M887.8,369.3V372.0" stroke="#3cb83c"/><path d="M888.5,369.7V371.1M889.3,370.4V370.7M890.0,370.9V371.7" stroke="#b0983a"/><path d="M890.9,371.3V373.6M891.9,367.8V370.4M892.8,368.0V369.6M893.8,369.5V373.3" stroke="#cc2818"/><path d="M894.7,371.5V374.2M895.7,374.2V374.8" stroke="#b0983a"/><path d="M896.6,373.8V375.0M897.4,374.6V376.4" stroke="#cc2818"/><path d="M898.3,377.6V378.0M899.1,378.7V381.1" stroke="#cc2818"/><path d="M900.0,376.4V378.2M900.9,379.6V380.6M901.9,381.0V382.5M902.8,384.7V385.5" stroke="#3cb83c"/><path d="M903.8,383.2V384.3M904.7,383.8V386.2M905.7,384.3V388.9" stroke="#3cb83c"/><path d="M906.6,386.1V387.2" stroke="#b0983a"/><path d="M907.4,383.5V386.7M908.3,386.7V389.0M909.1,383.6V387.2M910.0,385.4V386.5" stroke="#cc2818"/><path d="M910.9,384.6V387.5M911.9,388.3V389.4M912.8,388.9V390.3" stroke="#cc2818"/><path d="M913.8,387.6V389.4M914.7,390.5V392.2" stroke="#cc2818"/><path d="M915.7,392.4V393.6" stroke="#cc2818"/><path d="M916.6,391.4V394.4M917.6,390.2V392.5" stroke="#3cb83c"/><path d="M918.5,390.3V390.9M919.5,390.5V390.6M920.4,387.6V388.7M921.4,383.6V386.2" stroke="#b0983a"/><path d="M922.1,382.8V384.9" stroke="#3cb83c"/><path d="M922.8,382.0V383.6M923.5,377.9V379.0M924.2,378.2V378.6" stroke="#3cb83c"/><path d="M924.9,373.9V376.6M925.6,374.7V377.9" stroke="#3cb83c"/><path d="M926.3,374.4V375.4M927.1,376.4V377.6M927.8,380.2V382.7" stroke="#cc2818"/><path d="M928.7,376.8V377.2M929.7,372.4V373.6M930.6,368.7V370.2M931.6,370.7V371.0" stroke="#3cb83c"/><path d="M932.5,371.5V373.1M933.5,370.8V371.4" stroke="#b0983a"/><path d="M934.2,368.1V370.0" stroke="#3cb83c"/><path d="M934.9,367.6V369.6M935.6,367.3V369.6M936.3,368.8V369.8M937.1,369.6V372.1" stroke="#cc2818"/><path d="M937.8,370.3V371.2M938.5,379.2V380.4M939.4,376.4V378.1" stroke="#cc2818"/><path d="M940.4,377.9V380.6M941.3,378.9V379.4" stroke="#b0983a"/><path d="M942.2,378.0V379.1" stroke="#cc2818"/><path d="M943.0,377.7V378.2M943.9,376.7V379.2M944.7,380.0V380.8" stroke="#cc2818"/><path d="M945.6,376.7V378.4M946.5,378.0V380.0M947.3,379.3V381.2M948.2,378.7V380.4" stroke="#b0983a"/><path d="M949.0,377.9V378.4M949.9,378.1V379.8M950.8,377.3V378.6M951.6,375.5V378.4" stroke="#3cb83c"/><path d="M952.5,377.7V378.7M953.3,375.2V378.1" stroke="#3cb83c"/><path d="M954.2,377.7V378.1" stroke="#3cb83c"/><path d="M955.2,376.5V381.3" stroke="#3cb83c"/><path d="M956.2,375.6V377.7M957.2,376.5V377.6" stroke="#3cb83c"/><path d="M958.2,377.4V377.9M959.2,374.3V376.7M960.0,357.3V359.0" stroke="#cc2818"/><path d="M960.8,335.8V337.2" stroke="#3cb83c"/><path d="M961.6,341.8V344.1M962.4,346.1V346.7M963.2,348.7V350.0M964.1,347.1V348.4" stroke="#3cb83c"/><path d="M965.0,349.9V352.4M966.0,350.4V351.1M966.9,351.1V352.3" stroke="#b0983a"/><path d="M967.8,352.0V354.1M968.8,349.8V352.3M969.7,354.1V355.2M970.6,352.4V353.9" stroke="#cc2818"/><path d="M971.5,354.1V356.1M972.4,353.5V354.7M973.3,352.0V354.1M974.2,354.5V355.3" stroke="#3cb83c"/><path d="M975.1,352.7V354.2" stroke="#cc2818"/><path d="M976.0,348.4V350.7" stroke="#3cb83c"/><path d="M977.0,346.8V349.2" stroke="#cc2818"/><path d="M977.9,344.1V345.9M978.7,338.5V340.6M979.5,337.3V338.4M980.3,332.7V334.5" stroke="#b0983a"/><path d="M981.1,327.4V330.1M981.9,323.5V323.9" stroke="#3cb83c"/><path d="M982.7,320.1V320.7M983.5,312.6V314.6M984.5,313.9V316.1" stroke="#cc2818"/><path d="M985.5,314.4V316.4" stroke="#3cb83c"/><path d="M986.5,316.3V318.8M987.3,317.8V318.5" stroke="#cc2818"/><path d="M988.1,322.2V325.4M988.9,324.2V325.7M989.8,322.7V324.3" stroke="#cc2818"/><path d="M990.8,325.1V327.0M991.7,323.1V325.8M992.6,322.4V324.2M993.5,324.8V327.6" stroke="#3cb83c"/><path d="M994.4,329.3V330.7M995.3,331.8V332.7" stroke="#cc2818"/><path d="M996.2,330.9V332.8M997.1,332.5V333.4" stroke="#cc2818"/><path d="M998.0,330.8V333.9M999.0,330.1V331.8M999.9,331.9V332.9" stroke="#3cb83c"/><path d="M1000.8,329.1V331.2" stroke="#3cb83c"/><path d="M1001.8,325.8V327.9M1002.7,324.5V325.5" stroke="#3cb83c"/><path d="M1003.6,322.7V323.8" stroke="#3cb83c"/><path d="M1004.6,319.8V323.6" stroke="#cc2818"/><path d="M1005.6,319.6V319.7M1006.5,318.2V318.5M1007.5,318.0V319.5" stroke="#cc2818"/><path d="M1008.5,315.5V316.2M1009.4,312.1V312.2M1010.3,307.7V309.0" stroke="#3cb83c"/><path d="M1011.2,302.7V302.9M1012.1,299.7V300.9" stroke="#3cb83c"/><path d="M1013.0,297.6V299.7" stroke="#b0983a"/><path d="M1014.0,301.7V302.7M1014.9,301.5V302.9M1015.8,306.1V308.6M1016.7,303.4V305.3" stroke="#3cb83c"/><path d="M1017.6,300.3V301.6M1018.6,300.1V300.8M1019.5,298.2V301.7M1020.4,301.5V302.5" stroke="#cc2818"/><path d="M1021.3,301.3V302.6M1022.2,302.2V305.2M1023.1,303.1V304.1" stroke="#3cb83c"/><path d="M1023.9,301.1V301.9M1024.8,297.3V299.0M1025.6,297.1V297.7" stroke="#cc2818"/><path d="M1026.5,289.6V292.0" stroke="#cc2818"/><path d="M1027.4,290.3V291.1M1028.3,284.8V286.2M1029.2,284.7V285.4M1030.0,280.4V281.4" stroke="#3cb83c"/><path d="M1030.9,274.9V278.9M1031.7,274.1V275.0" stroke="#3cb83c"/><path d="M1032.5,268.2V269.8M1033.3,263.1V263.6M1034.1,257.8V258.2" stroke="#3cb83c"/><path d="M1034.8,259.7V261.5M1035.5,261.7V263.1M1036.3,260.4V261.8" stroke="#3cb83c"/><path d="M1037.0,257.0V258.1M1037.8,254.7V256.4M1038.6,257.7V258.2" stroke="#b0983a"/><path d="M1039.4,261.0V262.1" stroke="#cc2818"/><path d="M1040.2,262.8V265.3M1040.8,266.1V269.1M1041.5,266.5V269.8M1042.3,267.0V270.7" stroke="#cc2818"/><path d="M1043.1,267.6V269.2M1043.9,268.8V271.4M1044.8,266.5V267.6" stroke="#cc2818"/><path d="M1045.8,267.1V268.3M1046.7,263.9V264.3M1047.6,263.2V264.0" stroke="#3cb83c"/><path d="M1048.6,260.5V263.0M1049.6,263.8V264.7M1050.5,263.5V265.9M1051.5,262.5V264.7" stroke="#cc2818"/><path d="M1052.5,266.3V266.9M1053.5,262.4V267.1M1054.5,265.3V266.5" stroke="#cc2818"/><path d="M1055.4,263.4V265.3M1056.4,262.3V264.6" stroke="#3cb83c"/><path d="M1057.4,261.8V264.6M1058.1,263.9V266.7" stroke="#3cb83c"/><path d="M1058.8,265.6V268.4M1059.5,265.8V267.6" stroke="#3cb83c"/><path d="M1060.5,270.9V272.2M1061.0,272.7V273.6" stroke="#cc2818"/><path d="M1061.6,275.7V278.9M1062.3,271.9V275.3M1063.1,273.9V276.3" stroke="#cc2818"/><path d="M1064.1,275.3V276.8M1065.1,278.7V278.9" stroke="#cc2818"/><path d="M1065.9,277.8V278.6M1066.7,277.3V278.1M1067.7,278.7V279.9M1068.7,282.7V284.3" stroke="#cc2818"/><path d="M1069.7,286.2V286.7M1070.7,288.1V289.1" stroke="#cc2818"/><path d="M1071.4,290.6V292.3" stroke="#3cb83c"/><path d="M1072.1,294.4V297.8M1072.8,295.7V296.2M1073.5,302.8V304.3" stroke="#cc2818"/><path d="M1074.2,307.9V309.7M1074.8,313.8V316.2" stroke="#cc2818"/><path d="M1075.4,320.5V322.3M1076.0,330.0V332.6M1076.6,326.6V327.6M1077.2,323.0V324.3" stroke="#b0983a"/><path d="M1077.8,313.8V316.8M1078.4,307.9V310.9M1079.1,301.8V302.4M1079.9,304.7V306.1" stroke="#3cb83c"/><path d="M1080.7,306.1V307.1M1081.4,304.6V305.7M1082.1,308.1V309.5" stroke="#3cb83c"/><path d="M1082.8,314.5V314.6" stroke="#cc2818"/><path d="M1083.5,306.2V307.5M1084.2,302.0V304.3" stroke="#cc2818"/><path d="M1084.9,306.1V309.0" stroke="#b0983a"/><path d="M1085.7,306.6V307.2M1086.4,305.3V308.0M1087.1,308.5V310.0" stroke="#cc2818"/><path d="M1087.8,308.6V310.0M1088.5,310.6V313.1" stroke="#cc2818"/><path d="M1089.2,312.9V315.4M1089.9,311.5V312.0M1090.6,308.6V310.1M1091.3,310.9V311.4" stroke="#b0983a"/><path d="M1092.1,312.2V313.7M1092.8,315.2V317.8M1093.5,317.3V320.1" stroke="#cc2818"/><path d="M1094.2,321.6V324.6M1094.9,327.9V329.4" stroke="#cc2818"/><path d="M1095.6,331.2V333.4" stroke="#cc2818"/><path d="M1096.6,337.8V338.0" stroke="#cc2818"/><path d="M1097.2,348.5V349.6M1097.8,353.8V354.8" stroke="#cc2818"/><path d="M1098.4,359.8V363.2M1099.1,362.1V362.6M1099.7,368.2V368.9M1100.3,354.1V355.7" stroke="#cc2818"/><path d="M1101.2,354.7V354.9M1102.1,353.8V355.6M1103.0,355.8V357.1" stroke="#cc2818"/><path d="M1104.0,354.2V355.9M1104.9,357.4V359.0M1105.8,358.7V360.4M1106.7,359.9V361.7" stroke="#cc2818"/><path d="M1107.6,361.2V363.4M1108.2,363.5V364.7M1108.8,362.8V363.6" stroke="#cc2818"/><path d="M1109.8,364.0V364.4" stroke="#3cb83c"/><path d="M1110.7,357.2V358.4" stroke="#cc2818"/><path d="M1111.6,354.4V355.1" stroke="#3cb83c"/><path d="M1112.5,350.7V351.8" stroke="#cc2818"/><path d="M1113.4,351.1V353.3M1114.3,350.9V353.4M1115.2,347.6V350.6M1116.2,345.4V346.7" stroke="#3cb83c"/><path d="M1117.1,344.8V346.4M1118.0,340.4V341.2M1118.9,340.3V344.2" stroke="#3cb83c"/><path d="M1119.8,337.5V338.2M1120.5,326.9V327.9" stroke="#3cb83c"/><path d="M1121.1,319.8V321.1M1121.8,313.5V315.2M1122.5,307.8V308.8M1123.2,304.1V306.0" stroke="#3cb83c"/><path d="M1123.8,297.7V299.1M1124.5,291.7V293.3" stroke="#3cb83c"/><path d="M1125.2,287.7V287.9" stroke="#3cb83c"/><path d="M1125.9,277.8V279.7M1126.5,274.4V276.3" stroke="#3cb83c"/></g><g fill="none" stroke="#e4e4e4" stroke-width="1.4"><path d="M650.7,290.4 L653.2,293.2 L655.7,296.0 L658.2,298.8 L660.7,301.6 L663.1,304.3 L665.6,307.0 L668.1,309.7 L670.6,312.4 L673.1,315.0 L675.6,317.6 L678.1,320.2 L680.6,322.7 L683.0,325.2 L685.5,327.7 L688.0,330.1 L690.5,332.6 L693.0,335.0 L695.5,337.3 L698.0,339.7 L700.5,342.0 L702.9,344.3 L705.4,346.5 L707.9,348.7 L710.4,350.9 L712.9,353.1 L715.4,355.2 L717.9,357.3 L720.4,359.4 L722.9,361.4 L725.3,363.5 L727.8,365.5 L730.3,367.4 L732.8,369.3 L735.3,371.2 L737.8,373.1 L740.3,374.9 L742.8,376.7 L745.2,378.5 L747.7,380.2 L750.2,381.9 L752.7,383.6 L755.2,385.3 L757.7,386.9 L760.2,388.5 L762.7,390.0 L765.2,391.5 L767.6,393.0 L770.1,394.5 L772.6,395.9 L775.1,397.3 L777.6,398.6 L780.1,399.9 L782.6,401.2 L785.1,402.4 L787.5,403.7 L790.0,404.8 L792.5,406.0 L795.0,407.1 L797.5,408.1 L800.0,409.2 L802.5,410.2 L805.0,411.1 L807.4,412.1 L809.9,412.9 L812.4,413.8 L814.9,414.6 L817.4,415.4 L819.9,416.1 L822.4,416.8 L824.9,417.5 L827.4,418.1 L829.8,418.7 L832.3,419.2 L834.8,419.7 L837.3,420.2 L839.8,420.6 L842.3,420.9 L844.8,421.3 L847.3,421.6 L849.7,421.8 L852.2,422.0 L854.7,422.2 L857.2,422.3 L859.7,422.4 L862.2,422.4 L864.7,422.4 L867.2,422.3 L869.6,422.2 L872.1,422.1 L874.6,421.9 L877.1,421.7 L879.6,421.4 L882.1,421.0 L884.6,420.6 L887.1,420.2 L889.6,419.7 L892.0,419.2 L894.5,418.6 L897.0,418.0 L899.5,417.3 L902.0,416.6 L904.5,415.8 L907.0,415.0 L909.5,414.1 L911.9,413.1 L914.4,412.1 L916.9,411.1 L919.4,410.0 L921.9,408.8 L924.4,407.6 L926.9,406.4 L929.4,405.0 L931.8,403.7 L934.3,402.2 L936.8,400.7 L939.3,399.2 L941.8,397.6 L944.3,395.9 L946.8,394.2 L949.3,392.4 L951.8,390.5 L954.2,388.6 L956.7,386.6 L959.2,384.6 L961.7,382.5 L964.2,380.3 L966.7,378.1 L969.2,375.8 L971.7,373.4 L974.1,371.0 L976.6,368.5 L979.1,366.0 L981.6,363.3 L984.1,360.6 L986.6,357.9 L989.1,355.0 L991.6,352.1 L994.1,349.2 L996.5,346.1 L999.0,343.0 L1001.5,339.8 L1004.0,336.5 L1006.5,333.2 L1009.0,329.8 L1011.5,326.3 L1014.0,322.7 L1016.4,319.1 L1018.9,315.4 L1021.4,311.6 L1023.9,307.7 L1026.4,303.8 L1028.9,299.7 L1031.4,295.6 L1033.9,291.4 L1036.3,287.1 L1038.8,282.8 L1041.3,278.3 L1043.8,273.8 L1046.3,269.2"/><path d="M1060.5,278.0 L1060.9,280.2 L1061.3,282.3 L1061.7,284.5 L1062.1,286.6 L1062.5,288.6 L1062.9,290.7 L1063.3,292.7 L1063.8,294.8 L1064.2,296.8 L1064.6,298.8 L1065.1,300.7 L1065.5,302.7 L1065.9,304.6 L1066.4,306.5 L1066.8,308.4 L1067.3,310.2 L1067.7,312.1 L1068.2,313.9 L1068.7,315.7 L1069.1,317.4 L1069.6,319.2 L1070.1,320.9 L1070.5,322.6 L1071.0,324.2 L1071.5,325.9 L1072.0,327.5 L1072.5,329.1 L1073.0,330.6 L1073.5,332.2 L1074.0,333.7 L1074.5,335.1 L1075.0,336.6 L1075.5,338.0 L1076.0,339.4 L1076.5,340.8 L1077.0,342.1 L1077.5,343.4 L1078.0,344.7 L1078.6,345.9 L1079.1,347.2 L1079.6,348.3 L1080.2,349.5 L1080.7,350.6 L1081.2,351.7 L1081.8,352.8 L1082.3,353.8 L1082.9,354.8 L1083.4,355.8 L1084.0,356.7 L1084.5,357.6 L1085.1,358.5 L1085.7,359.3 L1086.2,360.1 L1086.8,360.9 L1087.4,361.6 L1087.9,362.3 L1088.5,363.0 L1089.1,363.6 L1089.7,364.2 L1090.2,364.8 L1090.8,365.3 L1091.4,365.8 L1092.0,366.3 L1092.6,366.7 L1093.2,367.1 L1093.8,367.4 L1094.4,367.7 L1095.0,368.0 L1095.6,368.3 L1096.2,368.5 L1096.8,368.7 L1097.4,368.8 L1098.0,368.9 L1098.6,369.0 L1099.2,369.0 L1099.8,369.0 L1100.4,369.0 L1101.0,368.9 L1101.6,368.8 L1102.3,368.7 L1102.9,368.5 L1103.5,368.3 L1104.1,368.0 L1104.7,367.8 L1105.4,367.4 L1106.0,367.1 L1106.6,366.7 L1107.2,366.3 L1107.9,365.8 L1108.5,365.3 L1109.1,364.8 L1109.7,364.2 L1110.4,363.6 L1111.0,363.0 L1111.6,362.3 L1112.3,361.6 L1112.9,360.9 L1113.5,360.2 L1114.2,359.4 L1114.8,358.5 L1115.4,357.7 L1116.1,356.8 L1116.7,355.8 L1117.3,354.9 L1117.9,353.9 L1118.6,352.9 L1119.2,351.8 L1119.8,350.7 L1120.5,349.6 L1121.1,348.4 L1121.7,347.3 L1122.4,346.0 L1123.0,344.8 L1123.6,343.5 L1124.3,342.2 L1124.9,340.9 L1125.5,339.6 L1126.1,338.2 L1126.8,336.8 L1127.4,335.3 L1128.0,333.8 L1128.6,332.3 L1129.3,330.8 L1129.9,329.3 L1130.5,327.7 L1131.1,326.1 L1131.7,324.5 L1132.4,322.8 L1133.0,321.1 L1133.6,319.4 L1134.2,317.7 L1134.8,316.0 L1135.4,314.2 L1136.0,312.4 L1136.6,310.6 L1137.3,308.7 L1137.9,306.9 L1138.5,305.0 L1139.1,303.1 L1139.7,301.1 L1140.3,299.2 L1140.9,297.2 L1141.5,295.2 L1142.1,293.2 L1142.6,291.2 L1143.2,289.1 L1143.8,287.1 L1144.4,285.0 L1145.0,282.9"/></g>
<line x1="178.6" y1="0" x2="1150.5" y2="286" stroke="#e6e6e6" stroke-width="1.5"/>
<line x1="459" y1="274.5" x2="1150" y2="274.5" stroke="#e2dbb0" stroke-width="1.2"/>
<line x1="1127" y1="271.2" x2="1150" y2="271.2" stroke="#d8b48c" stroke-width="1"/><line x1="1127.5" y1="272.4" x2="1150" y2="272.4" stroke="#8a3a1c" stroke-width="1.4"/>
<line x1="1148.8" y1="0" x2="1148.8" y2="473.5" stroke="#0a400a" stroke-width="1"/>
<line x1="1150.4" y1="0" x2="1150.4" y2="473.5" stroke="#6a9e6a" stroke-width="1.6"/>
<line x1="3" y1="441.5" x2="1151" y2="441.5" stroke="#8fb08f" stroke-width="1.2"/>
<line x1="3" y1="442.8" x2="1149" y2="442.8" stroke="#1d5a1d" stroke-width="1"/>
<g stroke="#4e9a4e" stroke-width="1"><line x1="25.5" y1="442" x2="25.5" y2="473.5"/><line x1="81.8" y1="442" x2="81.8" y2="473.5"/><line x1="138.2" y1="442" x2="138.2" y2="473.5"/><line x1="194.5" y1="442" x2="194.5" y2="473.5"/><line x1="250.8" y1="442" x2="250.8" y2="473.5"/><line x1="307.1" y1="442" x2="307.1" y2="473.5"/><line x1="363.5" y1="442" x2="363.5" y2="473.5"/><line x1="419.8" y1="442" x2="419.8" y2="473.5"/><line x1="476.1" y1="442" x2="476.1" y2="473.5"/><line x1="532.5" y1="442" x2="532.5" y2="473.5"/><line x1="588.8" y1="442" x2="588.8" y2="473.5"/><line x1="645.1" y1="442" x2="645.1" y2="473.5"/><line x1="701.5" y1="442" x2="701.5" y2="473.5"/><line x1="757.8" y1="442" x2="757.8" y2="473.5"/><line x1="814.1" y1="442" x2="814.1" y2="473.5"/><line x1="870.4" y1="442" x2="870.4" y2="473.5"/><line x1="926.8" y1="442" x2="926.8" y2="473.5"/><line x1="983.1" y1="442" x2="983.1" y2="473.5"/><line x1="1039.4" y1="442" x2="1039.4" y2="473.5"/><line x1="1095.8" y1="442" x2="1095.8" y2="473.5"/></g>
<g fill="#3cb83c"><polygon points="1151,-3.7 1158,-0.5 1151,2.7"/><polygon points="1151,78.8 1158,82.0 1151,85.2"/><polygon points="1151,161.3 1158,164.5 1151,167.7"/><polygon points="1151,243.8 1158,247.0 1151,250.2"/><polygon points="1151,326.3 1158,329.5 1151,332.7"/><polygon points="1151,408.8 1158,412.0 1151,415.2"/></g>
<g stroke="#bbbbbb" stroke-width="1"><line x1="1151.5" y1="40.8" x2="1154.5" y2="40.8"/><line x1="1151.5" y1="123.2" x2="1154.5" y2="123.2"/><line x1="1151.5" y1="205.8" x2="1154.5" y2="205.8"/><line x1="1151.5" y1="288.2" x2="1154.5" y2="288.2"/><line x1="1151.5" y1="370.8" x2="1154.5" y2="370.8"/></g>
<text x="1159.8" y="86.8" font-size="13.5" text-anchor="start" fill="#ece8e4" textLength="37.5" lengthAdjust="spacingAndGlyphs" xml:space="preserve">8.0000</text><text x="1159.8" y="169.3" font-size="13.5" text-anchor="start" fill="#ece8e4" textLength="37.5" lengthAdjust="spacingAndGlyphs" xml:space="preserve">7.5000</text><text x="1159.8" y="251.8" font-size="13.5" text-anchor="start" fill="#ece8e4" textLength="37.5" lengthAdjust="spacingAndGlyphs" xml:space="preserve">7.0000</text><text x="1159.8" y="334.3" font-size="13.5" text-anchor="start" fill="#ece8e4" textLength="37.5" lengthAdjust="spacingAndGlyphs" xml:space="preserve">6.5000</text><text x="1159.8" y="416.8" font-size="13.5" text-anchor="start" fill="#ece8e4" textLength="37.5" lengthAdjust="spacingAndGlyphs" xml:space="preserve">6.0000</text>
<text x="53.7" y="471" font-size="13.2" text-anchor="middle" fill="#ece8e4" textLength="26" lengthAdjust="spacingAndGlyphs" xml:space="preserve">1999</text><text x="110.0" y="471" font-size="13.2" text-anchor="middle" fill="#ece8e4" textLength="26" lengthAdjust="spacingAndGlyphs" xml:space="preserve">2000</text><text x="166.3" y="471" font-size="13.2" text-anchor="middle" fill="#ece8e4" textLength="26" lengthAdjust="spacingAndGlyphs" xml:space="preserve">2001</text><text x="222.7" y="471" font-size="13.2" text-anchor="middle" fill="#ece8e4" textLength="26" lengthAdjust="spacingAndGlyphs" xml:space="preserve">2002</text><text x="279.0" y="471" font-size="13.2" text-anchor="middle" fill="#ece8e4" textLength="26" lengthAdjust="spacingAndGlyphs" xml:space="preserve">2003</text><text x="335.3" y="471" font-size="13.2" text-anchor="middle" fill="#ece8e4" textLength="26" lengthAdjust="spacingAndGlyphs" xml:space="preserve">2004</text><text x="391.6" y="471" font-size="13.2" text-anchor="middle" fill="#ece8e4" textLength="26" lengthAdjust="spacingAndGlyphs" xml:space="preserve">2005</text><text x="448.0" y="471" font-size="13.2" text-anchor="middle" fill="#ece8e4" textLength="26" lengthAdjust="spacingAndGlyphs" xml:space="preserve">2006</text><text x="504.3" y="471" font-size="13.2" text-anchor="middle" fill="#ece8e4" textLength="26" lengthAdjust="spacingAndGlyphs" xml:space="preserve">2007</text><text x="560.6" y="471" font-size="13.2" text-anchor="middle" fill="#ece8e4" textLength="26" lengthAdjust="spacingAndGlyphs" xml:space="preserve">2008</text><text x="617.0" y="471" font-size="13.2" text-anchor="middle" fill="#ece8e4" textLength="26" lengthAdjust="spacingAndGlyphs" xml:space="preserve">2009</text><text x="673.3" y="471" font-size="13.2" text-anchor="middle" fill="#ece8e4" textLength="26" lengthAdjust="spacingAndGlyphs" xml:space="preserve">2010</text><text x="729.6" y="471" font-size="13.2" text-anchor="middle" fill="#ece8e4" textLength="26" lengthAdjust="spacingAndGlyphs" xml:space="preserve">2011</text><text x="786.0" y="471" font-size="13.2" text-anchor="middle" fill="#ece8e4" textLength="26" lengthAdjust="spacingAndGlyphs" xml:space="preserve">2012</text><text x="842.3" y="471" font-size="13.2" text-anchor="middle" fill="#ece8e4" textLength="26" lengthAdjust="spacingAndGlyphs" xml:space="preserve">2013</text><text x="898.6" y="471" font-size="13.2" text-anchor="middle" fill="#ece8e4" textLength="26" lengthAdjust="spacingAndGlyphs" xml:space="preserve">2014</text><text x="954.9" y="471" font-size="13.2" text-anchor="middle" fill="#ece8e4" textLength="26" lengthAdjust="spacingAndGlyphs" xml:space="preserve">2015</text><text x="1011.3" y="471" font-size="13.2" text-anchor="middle" fill="#ece8e4" textLength="26" lengthAdjust="spacingAndGlyphs" xml:space="preserve">2016</text><text x="1067.6" y="471" font-size="13.2" text-anchor="middle" fill="#ece8e4" textLength="26" lengthAdjust="spacingAndGlyphs" xml:space="preserve">2017</text><text x="1123.9" y="471" font-size="13.2" text-anchor="middle" fill="#ece8e4" textLength="26" lengthAdjust="spacingAndGlyphs" xml:space="preserve">2018</text>
<polygon points="1152.7,271.8 1157.8,264 1200,264 1200,280 1157.8,280" fill="#33c633"/>
<text x="1158.9" y="276.8" font-size="13.5" text-anchor="start" fill="#0c1a0c" textLength="37" lengthAdjust="spacingAndGlyphs" xml:space="preserve">6.8476</text>
<rect x="0" y="263" width="3" height="16" fill="#33c633"/>
<rect x="841" y="4" width="304" height="28" fill="#141312"/>
<rect x="849" y="12" width="11" height="12" fill="#33bb33"/>
<text x="864.00" y="23.7" font-size="13.6" text-anchor="start" fill="#ece8e4" textLength="30.30" lengthAdjust="spacingAndGlyphs" xml:space="preserve">China</text><text x="899.50" y="23.7" font-size="13.6" text-anchor="start" fill="#ece8e4" textLength="52.10" lengthAdjust="spacingAndGlyphs" xml:space="preserve">Renminbi</text><text x="956.40" y="23.7" font-size="13.6" text-anchor="start" fill="#ece8e4" textLength="25.90" lengthAdjust="spacingAndGlyphs" xml:space="preserve">Spot</text><text x="989.05" y="23.7" font-size="13.6" text-anchor="middle" fill="#ece8e4" xml:space="preserve">-</text><text x="997.20" y="23.7" font-size="13.6" text-anchor="start" fill="#ece8e4" textLength="26.00" lengthAdjust="spacingAndGlyphs" xml:space="preserve">Last</text><text x="1027.40" y="23.7" font-size="13.6" text-anchor="start" fill="#ece8e4" textLength="29.70" lengthAdjust="spacingAndGlyphs" xml:space="preserve">Price</text><text x="1061.90" y="23.7" font-size="13.6" text-anchor="start" fill="#ece8e4" textLength="38.20" lengthAdjust="spacingAndGlyphs" xml:space="preserve">6.8476</text><text x="1109.10" y="23.7" font-size="13.6" text-anchor="start" fill="#ece8e4" textLength="31.40" lengthAdjust="spacingAndGlyphs" xml:space="preserve">0.36%</text>
<rect x="0" y="479" width="1.5" height="5" fill="#c08030"/>
<text x="4.65" y="487" font-size="12.5" text-anchor="start" fill="#ece8e4" textLength="19.95" lengthAdjust="spacingAndGlyphs" xml:space="preserve">CNY</text><text x="30.15" y="487" font-size="12.5" text-anchor="start" fill="#ece8e4" textLength="38.70" lengthAdjust="spacingAndGlyphs" xml:space="preserve">Curncy</text><text x="73.65" y="487" font-size="12.5" text-anchor="start" fill="#ece8e4" textLength="35.70" lengthAdjust="spacingAndGlyphs" xml:space="preserve">(China</text><text x="115.65" y="487" font-size="12.5" text-anchor="start" fill="#ece8e4" textLength="51.45" lengthAdjust="spacingAndGlyphs" xml:space="preserve">Renminbi</text><text x="171.65" y="487" font-size="12.5" text-anchor="start" fill="#ece8e4" textLength="29.70" lengthAdjust="spacingAndGlyphs" xml:space="preserve">Spot)</text><text x="206.15" y="487" font-size="12.5" text-anchor="start" fill="#ece8e4" textLength="43.20" lengthAdjust="spacingAndGlyphs" xml:space="preserve">Demark</text><text x="254.15" y="487" font-size="12.5" text-anchor="start" fill="#ece8e4" textLength="18.45" lengthAdjust="spacingAndGlyphs" xml:space="preserve">Bar</text><text x="280.62" y="487" font-size="12.5" text-anchor="middle" fill="#ece8e4" xml:space="preserve">/</text><text x="289.40" y="487" font-size="12.5" text-anchor="start" fill="#ece8e4" textLength="29.70" lengthAdjust="spacingAndGlyphs" xml:space="preserve">black</text><text x="324.65" y="487" font-size="12.5" text-anchor="start" fill="#ece8e4" textLength="28.95" lengthAdjust="spacingAndGlyphs" xml:space="preserve">Chart</text><text x="362.90" y="487" font-size="12.5" text-anchor="start" fill="#ece8e4" textLength="28.20" lengthAdjust="spacingAndGlyphs" xml:space="preserve">Daily</text><text x="395.90" y="487" font-size="12.5" text-anchor="start" fill="#ece8e4" textLength="103.20" lengthAdjust="spacingAndGlyphs" xml:space="preserve">02AUG1998-02AUG</text><text x="672.00" y="487" font-size="12.5" text-anchor="start" fill="#ece8e4" textLength="60.60" lengthAdjust="spacingAndGlyphs" xml:space="preserve">Copyright©</text><text x="735.40" y="487" font-size="12.5" text-anchor="start" fill="#ece8e4" textLength="27.20" lengthAdjust="spacingAndGlyphs" xml:space="preserve">2018</text><text x="767.40" y="487" font-size="12.5" text-anchor="start" fill="#ece8e4" textLength="60.20" lengthAdjust="spacingAndGlyphs" xml:space="preserve">Bloomberg</text><text x="832.40" y="487" font-size="12.5" text-anchor="start" fill="#ece8e4" textLength="37.20" lengthAdjust="spacingAndGlyphs" xml:space="preserve">Finance</text><text x="873.40" y="487" font-size="12.5" text-anchor="start" fill="#ece8e4" textLength="25.20" lengthAdjust="spacingAndGlyphs" xml:space="preserve">L.P.</text><text x="1074.80" y="487" font-size="12.5" text-anchor="start" fill="#ece8e4" textLength="71.60" lengthAdjust="spacingAndGlyphs" xml:space="preserve">02-Aug-2018</text><text x="1151.70" y="487" font-size="12.5" text-anchor="start" fill="#ece8e4" textLength="50.40" lengthAdjust="spacingAndGlyphs" xml:space="preserve">18:01:00</text>
</svg>
</body></html>
